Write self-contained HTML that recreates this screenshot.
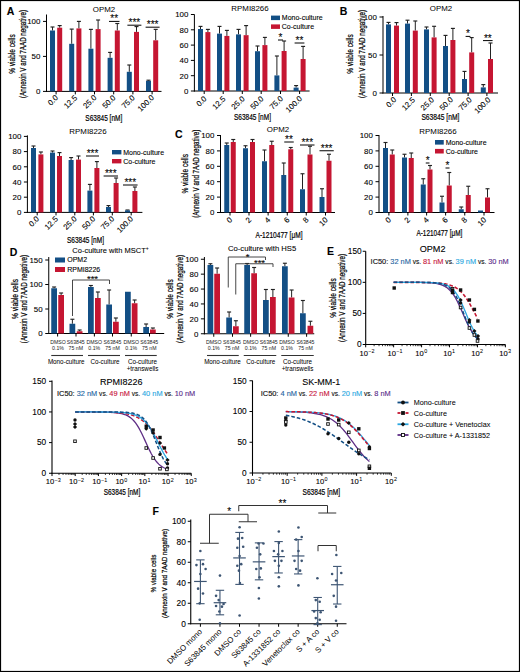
<!DOCTYPE html><html><head><meta charset="utf-8"><style>html,body{margin:0;padding:0;background:#fff;width:520px;height:672px;overflow:hidden}svg{display:block}text{font-family:"Liberation Sans",sans-serif}</style></head><body><svg width="520" height="672" viewBox="0 0 520 672"><rect width="520" height="672" fill="#fff"/><rect x="0.5" y="0.5" width="519" height="671" fill="none" stroke="#000" stroke-width="1.2"/>
<text x="10.5" y="14.5" font-size="10.5" text-anchor="middle" fill="#000" font-weight="bold" stroke="#000" stroke-width="0.1">A</text>
<text x="343.5" y="14.5" font-size="10.5" text-anchor="middle" fill="#000" font-weight="bold" stroke="#000" stroke-width="0.1">B</text>
<text x="178.8" y="137.6" font-size="10.5" text-anchor="middle" fill="#000" font-weight="bold" stroke="#000" stroke-width="0.1">C</text>
<text x="13.5" y="256.2" font-size="10.5" text-anchor="middle" fill="#000" font-weight="bold" stroke="#000" stroke-width="0.1">D</text>
<text x="330.6" y="254.6" font-size="10.5" text-anchor="middle" fill="#000" font-weight="bold" stroke="#000" stroke-width="0.1">E</text>
<text x="155.6" y="514.6" font-size="10.5" text-anchor="middle" fill="#000" font-weight="bold" stroke="#000" stroke-width="0.1">F</text>
<line x1="46.5" y1="14.5" x2="46.5" y2="91.9" stroke="#000" stroke-width="1" />
<line x1="46" y1="91.4" x2="161.5" y2="91.4" stroke="#000" stroke-width="1" />
<line x1="43" y1="91.4" x2="46.5" y2="91.4" stroke="#000" stroke-width="1" />
<text x="40.4" y="94.2" font-size="7.9" text-anchor="end" fill="#000" font-weight="normal" stroke="#000" stroke-width="0.1">0</text>
<line x1="43" y1="56.4" x2="46.5" y2="56.4" stroke="#000" stroke-width="1" />
<text x="40.4" y="59.2" font-size="7.9" text-anchor="end" fill="#000" font-weight="normal" stroke="#000" stroke-width="0.1">50</text>
<line x1="43" y1="21.4" x2="46.5" y2="21.4" stroke="#000" stroke-width="1" />
<text x="40.4" y="24.2" font-size="7.9" text-anchor="end" fill="#000" font-weight="normal" stroke="#000" stroke-width="0.1">100</text>
<line x1="52.5" y1="27" x2="52.5" y2="30.5" stroke="#222" stroke-width="1" />
<line x1="50.5" y1="27" x2="54.5" y2="27" stroke="#222" stroke-width="1.15" />
<line x1="59.7" y1="25.6" x2="59.7" y2="27.7" stroke="#222" stroke-width="1" />
<line x1="57.7" y1="25.6" x2="61.7" y2="25.6" stroke="#222" stroke-width="1.15" />
<rect x="50" y="30.5" width="5" height="60.9" fill="#134f85"/>
<rect x="57.2" y="27.7" width="5" height="63.7" fill="#c51632"/>
<line x1="56.1" y1="91.4" x2="56.1" y2="94.4" stroke="#000" stroke-width="1" />
<line x1="71.7" y1="29.1" x2="71.7" y2="43.8" stroke="#222" stroke-width="1" />
<line x1="69.7" y1="29.1" x2="73.7" y2="29.1" stroke="#222" stroke-width="1.15" />
<line x1="78.9" y1="21.4" x2="78.9" y2="28.4" stroke="#222" stroke-width="1" />
<line x1="76.9" y1="21.4" x2="80.9" y2="21.4" stroke="#222" stroke-width="1.15" />
<rect x="69.2" y="43.8" width="5" height="47.6" fill="#134f85"/>
<rect x="76.4" y="28.4" width="5" height="63" fill="#c51632"/>
<line x1="75.3" y1="91.4" x2="75.3" y2="94.4" stroke="#000" stroke-width="1" />
<line x1="90.9" y1="29.38" x2="90.9" y2="48.7" stroke="#222" stroke-width="1" />
<line x1="88.9" y1="29.38" x2="92.9" y2="29.38" stroke="#222" stroke-width="1.15" />
<line x1="98.1" y1="20" x2="98.1" y2="29.1" stroke="#222" stroke-width="1" />
<line x1="96.1" y1="20" x2="100.1" y2="20" stroke="#222" stroke-width="1.15" />
<rect x="88.4" y="48.7" width="5" height="42.7" fill="#134f85"/>
<rect x="95.6" y="29.1" width="5" height="62.3" fill="#c51632"/>
<line x1="94.5" y1="91.4" x2="94.5" y2="94.4" stroke="#000" stroke-width="1" />
<line x1="110.1" y1="52.41" x2="110.1" y2="57.8" stroke="#222" stroke-width="1" />
<line x1="108.1" y1="52.41" x2="112.1" y2="52.41" stroke="#222" stroke-width="1.15" />
<line x1="117.3" y1="23.5" x2="117.3" y2="30.5" stroke="#222" stroke-width="1" />
<line x1="115.3" y1="23.5" x2="119.3" y2="23.5" stroke="#222" stroke-width="1.15" />
<rect x="107.6" y="57.8" width="5" height="33.6" fill="#134f85"/>
<rect x="114.8" y="30.5" width="5" height="60.9" fill="#c51632"/>
<line x1="113.7" y1="91.4" x2="113.7" y2="94.4" stroke="#000" stroke-width="1" />
<line x1="129.3" y1="65.01" x2="129.3" y2="71.8" stroke="#222" stroke-width="1" />
<line x1="127.3" y1="65.01" x2="131.3" y2="65.01" stroke="#222" stroke-width="1.15" />
<line x1="136.5" y1="26.58" x2="136.5" y2="31.9" stroke="#222" stroke-width="1" />
<line x1="134.5" y1="26.58" x2="138.5" y2="26.58" stroke="#222" stroke-width="1.15" />
<rect x="126.8" y="71.8" width="5" height="19.6" fill="#134f85"/>
<rect x="134" y="31.9" width="5" height="59.5" fill="#c51632"/>
<line x1="132.9" y1="91.4" x2="132.9" y2="94.4" stroke="#000" stroke-width="1" />
<line x1="148.5" y1="80.2" x2="148.5" y2="80.9" stroke="#222" stroke-width="1" />
<line x1="146.5" y1="80.2" x2="150.5" y2="80.2" stroke="#222" stroke-width="1.15" />
<line x1="155.7" y1="29.38" x2="155.7" y2="40.3" stroke="#222" stroke-width="1" />
<line x1="153.7" y1="29.38" x2="157.7" y2="29.38" stroke="#222" stroke-width="1.15" />
<rect x="146" y="80.9" width="5" height="10.5" fill="#134f85"/>
<rect x="153.2" y="40.3" width="5" height="51.1" fill="#c51632"/>
<line x1="152.1" y1="91.4" x2="152.1" y2="94.4" stroke="#000" stroke-width="1" />
<text x="58.6" y="98.3" font-size="7.8" text-anchor="end" fill="#000" font-weight="normal" stroke="#000" stroke-width="0.1" transform="rotate(-45 58.6 98.3)">0.0</text>
<text x="77.8" y="98.3" font-size="7.8" text-anchor="end" fill="#000" font-weight="normal" stroke="#000" stroke-width="0.1" transform="rotate(-45 77.8 98.3)">12.5</text>
<text x="97" y="98.3" font-size="7.8" text-anchor="end" fill="#000" font-weight="normal" stroke="#000" stroke-width="0.1" transform="rotate(-45 97 98.3)">25.0</text>
<text x="116.2" y="98.3" font-size="7.8" text-anchor="end" fill="#000" font-weight="normal" stroke="#000" stroke-width="0.1" transform="rotate(-45 116.2 98.3)">50.0</text>
<text x="135.4" y="98.3" font-size="7.8" text-anchor="end" fill="#000" font-weight="normal" stroke="#000" stroke-width="0.1" transform="rotate(-45 135.4 98.3)">75.0</text>
<text x="154.6" y="98.3" font-size="7.8" text-anchor="end" fill="#000" font-weight="normal" stroke="#000" stroke-width="0.1" transform="rotate(-45 154.6 98.3)">100.0</text>
<text x="104" y="11.8" font-size="7.9" text-anchor="middle" fill="#000" font-weight="normal" stroke="#000" stroke-width="0.03">OPM2</text>
<text x="103.8" y="120.6" font-size="8.8" text-anchor="middle" fill="#000" font-weight="normal" stroke="#000" stroke-width="0.2" textLength="37" lengthAdjust="spacingAndGlyphs">S63845 [nM]</text>
<text x="14.87" y="54" font-size="8.2" text-anchor="middle" fill="#000" font-weight="normal" stroke="#000" stroke-width="0.22" textLength="39.5" lengthAdjust="spacingAndGlyphs" transform="rotate(-90 14.87 54)">% viable cells</text>
<text x="26.37" y="54" font-size="8.2" text-anchor="middle" fill="#000" font-weight="normal" stroke="#000" stroke-width="0.22" textLength="88" lengthAdjust="spacingAndGlyphs" transform="rotate(-90 26.37 54)">(Annexin V and 7AAD negative)</text>
<line x1="109" y1="21.4" x2="119.5" y2="21.4" stroke="#000" stroke-width="1" />
<text x="114.25" y="22.3" font-size="10" text-anchor="middle" fill="#000" font-weight="normal" stroke="#000" stroke-width="0.1">**</text>
<line x1="127.4" y1="25.2" x2="141.4" y2="25.2" stroke="#000" stroke-width="1" />
<text x="134.4" y="26.1" font-size="10" text-anchor="middle" fill="#000" font-weight="normal" stroke="#000" stroke-width="0.1">***</text>
<line x1="145.6" y1="27.2" x2="159.6" y2="27.2" stroke="#000" stroke-width="1" />
<text x="152.6" y="28.1" font-size="10" text-anchor="middle" fill="#000" font-weight="normal" stroke="#000" stroke-width="0.1">***</text>
<line x1="194.4" y1="14.4" x2="194.4" y2="91.5" stroke="#000" stroke-width="1" />
<line x1="193.9" y1="91" x2="309.6" y2="91" stroke="#000" stroke-width="1" />
<line x1="190.9" y1="91" x2="194.4" y2="91" stroke="#000" stroke-width="1" />
<text x="188.3" y="93.8" font-size="7.9" text-anchor="end" fill="#000" font-weight="normal" stroke="#000" stroke-width="0.1">0</text>
<line x1="190.9" y1="75.7" x2="194.4" y2="75.7" stroke="#000" stroke-width="1" />
<text x="188.3" y="78.5" font-size="7.9" text-anchor="end" fill="#000" font-weight="normal" stroke="#000" stroke-width="0.1">20</text>
<line x1="190.9" y1="60.4" x2="194.4" y2="60.4" stroke="#000" stroke-width="1" />
<text x="188.3" y="63.2" font-size="7.9" text-anchor="end" fill="#000" font-weight="normal" stroke="#000" stroke-width="0.1">40</text>
<line x1="190.9" y1="45.1" x2="194.4" y2="45.1" stroke="#000" stroke-width="1" />
<text x="188.3" y="47.9" font-size="7.9" text-anchor="end" fill="#000" font-weight="normal" stroke="#000" stroke-width="0.1">60</text>
<line x1="190.9" y1="29.8" x2="194.4" y2="29.8" stroke="#000" stroke-width="1" />
<text x="188.3" y="32.6" font-size="7.9" text-anchor="end" fill="#000" font-weight="normal" stroke="#000" stroke-width="0.1">80</text>
<line x1="190.9" y1="14.5" x2="194.4" y2="14.5" stroke="#000" stroke-width="1" />
<text x="188.3" y="17.3" font-size="7.9" text-anchor="end" fill="#000" font-weight="normal" stroke="#000" stroke-width="0.1">100</text>
<line x1="200.5" y1="26.4" x2="200.5" y2="29.03" stroke="#222" stroke-width="1" />
<line x1="198.5" y1="26.4" x2="202.5" y2="26.4" stroke="#222" stroke-width="1.15" />
<line x1="207.9" y1="29.4" x2="207.9" y2="32.09" stroke="#222" stroke-width="1" />
<line x1="205.9" y1="29.4" x2="209.9" y2="29.4" stroke="#222" stroke-width="1.15" />
<rect x="198" y="29.03" width="5" height="61.97" fill="#134f85"/>
<rect x="205.4" y="32.09" width="5" height="58.91" fill="#c51632"/>
<line x1="204.2" y1="91" x2="204.2" y2="94" stroke="#000" stroke-width="1" />
<line x1="219.5" y1="26.4" x2="219.5" y2="33.62" stroke="#222" stroke-width="1" />
<line x1="217.5" y1="26.4" x2="221.5" y2="26.4" stroke="#222" stroke-width="1.15" />
<line x1="226.9" y1="30.4" x2="226.9" y2="35.92" stroke="#222" stroke-width="1" />
<line x1="224.9" y1="30.4" x2="228.9" y2="30.4" stroke="#222" stroke-width="1.15" />
<rect x="217" y="33.62" width="5" height="57.38" fill="#134f85"/>
<rect x="224.4" y="35.92" width="5" height="55.08" fill="#c51632"/>
<line x1="223.2" y1="91" x2="223.2" y2="94" stroke="#000" stroke-width="1" />
<line x1="238.5" y1="29.4" x2="238.5" y2="34.39" stroke="#222" stroke-width="1" />
<line x1="236.5" y1="29.4" x2="240.5" y2="29.4" stroke="#222" stroke-width="1.15" />
<line x1="246.1" y1="25.6" x2="246.1" y2="35.16" stroke="#222" stroke-width="1" />
<line x1="244.1" y1="25.6" x2="248.1" y2="25.6" stroke="#222" stroke-width="1.15" />
<rect x="236" y="34.39" width="5" height="56.61" fill="#134f85"/>
<rect x="243.6" y="35.16" width="5" height="55.84" fill="#c51632"/>
<line x1="242.3" y1="91" x2="242.3" y2="94" stroke="#000" stroke-width="1" />
<line x1="257.5" y1="46" x2="257.5" y2="51.22" stroke="#222" stroke-width="1" />
<line x1="255.5" y1="46" x2="259.5" y2="46" stroke="#222" stroke-width="1.15" />
<line x1="264.9" y1="37.4" x2="264.9" y2="45.1" stroke="#222" stroke-width="1" />
<line x1="262.9" y1="37.4" x2="266.9" y2="37.4" stroke="#222" stroke-width="1.15" />
<rect x="255" y="51.22" width="5" height="39.78" fill="#134f85"/>
<rect x="262.4" y="45.1" width="5" height="45.9" fill="#c51632"/>
<line x1="261.2" y1="91" x2="261.2" y2="94" stroke="#000" stroke-width="1" />
<line x1="276.9" y1="56" x2="276.9" y2="75.4" stroke="#222" stroke-width="1" />
<line x1="274.9" y1="56" x2="278.9" y2="56" stroke="#222" stroke-width="1.15" />
<line x1="284.1" y1="41" x2="284.1" y2="51" stroke="#222" stroke-width="1" />
<line x1="282.1" y1="41" x2="286.1" y2="41" stroke="#222" stroke-width="1.15" />
<rect x="274.4" y="75.4" width="5" height="15.6" fill="#134f85"/>
<rect x="281.6" y="51" width="5" height="40" fill="#c51632"/>
<line x1="280.5" y1="91" x2="280.5" y2="94" stroke="#000" stroke-width="1" />
<line x1="296.1" y1="85.6" x2="296.1" y2="87.6" stroke="#222" stroke-width="1" />
<line x1="294.1" y1="85.6" x2="298.1" y2="85.6" stroke="#222" stroke-width="1.15" />
<line x1="303.1" y1="46.4" x2="303.1" y2="59" stroke="#222" stroke-width="1" />
<line x1="301.1" y1="46.4" x2="305.1" y2="46.4" stroke="#222" stroke-width="1.15" />
<rect x="293.6" y="87.6" width="5" height="3.4" fill="#134f85"/>
<rect x="300.6" y="59" width="5" height="32" fill="#c51632"/>
<line x1="299.6" y1="91" x2="299.6" y2="94" stroke="#000" stroke-width="1" />
<text x="207.2" y="99.3" font-size="7.8" text-anchor="end" fill="#000" font-weight="normal" stroke="#000" stroke-width="0.1" transform="rotate(-45 207.2 99.3)">0.0</text>
<text x="226.2" y="99.3" font-size="7.8" text-anchor="end" fill="#000" font-weight="normal" stroke="#000" stroke-width="0.1" transform="rotate(-45 226.2 99.3)">12.5</text>
<text x="245.3" y="99.3" font-size="7.8" text-anchor="end" fill="#000" font-weight="normal" stroke="#000" stroke-width="0.1" transform="rotate(-45 245.3 99.3)">25.0</text>
<text x="264.2" y="99.3" font-size="7.8" text-anchor="end" fill="#000" font-weight="normal" stroke="#000" stroke-width="0.1" transform="rotate(-45 264.2 99.3)">50.0</text>
<text x="283.5" y="99.3" font-size="7.8" text-anchor="end" fill="#000" font-weight="normal" stroke="#000" stroke-width="0.1" transform="rotate(-45 283.5 99.3)">75.0</text>
<text x="302.6" y="99.3" font-size="7.8" text-anchor="end" fill="#000" font-weight="normal" stroke="#000" stroke-width="0.1" transform="rotate(-45 302.6 99.3)">100.0</text>
<text x="250" y="11.4" font-size="7.9" text-anchor="middle" fill="#000" font-weight="normal" stroke="#000" stroke-width="0.03">RPMI8266</text>
<text x="252.5" y="120" font-size="8.8" text-anchor="middle" fill="#000" font-weight="normal" stroke="#000" stroke-width="0.2" textLength="37" lengthAdjust="spacingAndGlyphs">S63845 [nM]</text>
<rect x="271" y="15.6" width="9" height="4.5" fill="#134f85"/>
<rect x="271" y="24.4" width="9" height="4.5" fill="#c51632"/>
<text x="281.8" y="20.25" font-size="7" text-anchor="start" fill="#000" font-weight="normal" stroke="#000" stroke-width="0.1">Mono-culture</text>
<text x="281.8" y="29.05" font-size="7" text-anchor="start" fill="#000" font-weight="normal" stroke="#000" stroke-width="0.1">Co-culture</text>
<line x1="278" y1="40" x2="283" y2="40" stroke="#000" stroke-width="1" />
<text x="280.5" y="40.9" font-size="10" text-anchor="middle" fill="#000" font-weight="normal" stroke="#000" stroke-width="0.1">*</text>
<line x1="294.6" y1="43" x2="304.4" y2="43" stroke="#000" stroke-width="1" />
<text x="299.5" y="43.9" font-size="10" text-anchor="middle" fill="#000" font-weight="normal" stroke="#000" stroke-width="0.1">**</text>
<line x1="383" y1="16" x2="383" y2="93.5" stroke="#000" stroke-width="1" />
<line x1="382.5" y1="93" x2="498" y2="93" stroke="#000" stroke-width="1" />
<line x1="379.5" y1="93" x2="383" y2="93" stroke="#000" stroke-width="1" />
<text x="376.9" y="95.8" font-size="7.9" text-anchor="end" fill="#000" font-weight="normal" stroke="#000" stroke-width="0.1">0</text>
<line x1="379.5" y1="55" x2="383" y2="55" stroke="#000" stroke-width="1" />
<text x="376.9" y="57.8" font-size="7.9" text-anchor="end" fill="#000" font-weight="normal" stroke="#000" stroke-width="0.1">50</text>
<line x1="379.5" y1="17" x2="383" y2="17" stroke="#000" stroke-width="1" />
<text x="376.9" y="19.8" font-size="7.9" text-anchor="end" fill="#000" font-weight="normal" stroke="#000" stroke-width="0.1">100</text>
<line x1="388.5" y1="22.4" x2="388.5" y2="24.4" stroke="#222" stroke-width="1" />
<line x1="386.5" y1="22.4" x2="390.5" y2="22.4" stroke="#222" stroke-width="1.15" />
<line x1="396.5" y1="22.6" x2="396.5" y2="25.6" stroke="#222" stroke-width="1" />
<line x1="394.5" y1="22.6" x2="398.5" y2="22.6" stroke="#222" stroke-width="1.15" />
<rect x="386" y="24.4" width="5" height="68.6" fill="#134f85"/>
<rect x="394" y="25.6" width="5" height="67.4" fill="#c51632"/>
<line x1="392.5" y1="93" x2="392.5" y2="96" stroke="#000" stroke-width="1" />
<line x1="407.5" y1="20.2" x2="407.5" y2="23.6" stroke="#222" stroke-width="1" />
<line x1="405.5" y1="20.2" x2="409.5" y2="20.2" stroke="#222" stroke-width="1.15" />
<line x1="415.3" y1="21" x2="415.3" y2="30.6" stroke="#222" stroke-width="1" />
<line x1="413.3" y1="21" x2="417.3" y2="21" stroke="#222" stroke-width="1.15" />
<rect x="405" y="23.6" width="5" height="69.4" fill="#134f85"/>
<rect x="412.8" y="30.6" width="5" height="62.4" fill="#c51632"/>
<line x1="411.4" y1="93" x2="411.4" y2="96" stroke="#000" stroke-width="1" />
<line x1="426.5" y1="27" x2="426.5" y2="29.4" stroke="#222" stroke-width="1" />
<line x1="424.5" y1="27" x2="428.5" y2="27" stroke="#222" stroke-width="1.15" />
<line x1="434.1" y1="26.3" x2="434.1" y2="37.4" stroke="#222" stroke-width="1" />
<line x1="432.1" y1="26.3" x2="436.1" y2="26.3" stroke="#222" stroke-width="1.15" />
<rect x="424" y="29.4" width="5" height="63.6" fill="#134f85"/>
<rect x="431.6" y="37.4" width="5" height="55.6" fill="#c51632"/>
<line x1="430.3" y1="93" x2="430.3" y2="96" stroke="#000" stroke-width="1" />
<line x1="445.5" y1="35.4" x2="445.5" y2="46" stroke="#222" stroke-width="1" />
<line x1="443.5" y1="35.4" x2="447.5" y2="35.4" stroke="#222" stroke-width="1.15" />
<line x1="452.9" y1="28.4" x2="452.9" y2="40" stroke="#222" stroke-width="1" />
<line x1="450.9" y1="28.4" x2="454.9" y2="28.4" stroke="#222" stroke-width="1.15" />
<rect x="443" y="46" width="5" height="47" fill="#134f85"/>
<rect x="450.4" y="40" width="5" height="53" fill="#c51632"/>
<line x1="449.2" y1="93" x2="449.2" y2="96" stroke="#000" stroke-width="1" />
<line x1="464.5" y1="71.4" x2="464.5" y2="79" stroke="#222" stroke-width="1" />
<line x1="462.5" y1="71.4" x2="466.5" y2="71.4" stroke="#222" stroke-width="1.15" />
<line x1="471.7" y1="37.6" x2="471.7" y2="52.4" stroke="#222" stroke-width="1" />
<line x1="469.7" y1="37.6" x2="473.7" y2="37.6" stroke="#222" stroke-width="1.15" />
<rect x="462" y="79" width="5" height="14" fill="#134f85"/>
<rect x="469.2" y="52.4" width="5" height="40.6" fill="#c51632"/>
<line x1="468.1" y1="93" x2="468.1" y2="96" stroke="#000" stroke-width="1" />
<line x1="483.3" y1="84.6" x2="483.3" y2="87.4" stroke="#222" stroke-width="1" />
<line x1="481.3" y1="84.6" x2="485.3" y2="84.6" stroke="#222" stroke-width="1.15" />
<line x1="490.5" y1="43" x2="490.5" y2="59" stroke="#222" stroke-width="1" />
<line x1="488.5" y1="43" x2="492.5" y2="43" stroke="#222" stroke-width="1.15" />
<rect x="480.8" y="87.4" width="5" height="5.6" fill="#134f85"/>
<rect x="488" y="59" width="5" height="34" fill="#c51632"/>
<line x1="486.9" y1="93" x2="486.9" y2="96" stroke="#000" stroke-width="1" />
<text x="396.8" y="100.3" font-size="7.8" text-anchor="end" fill="#000" font-weight="normal" stroke="#000" stroke-width="0.1" transform="rotate(-45 396.8 100.3)">0.0</text>
<text x="415.7" y="100.3" font-size="7.8" text-anchor="end" fill="#000" font-weight="normal" stroke="#000" stroke-width="0.1" transform="rotate(-45 415.7 100.3)">12.5</text>
<text x="434.6" y="100.3" font-size="7.8" text-anchor="end" fill="#000" font-weight="normal" stroke="#000" stroke-width="0.1" transform="rotate(-45 434.6 100.3)">25.0</text>
<text x="453.5" y="100.3" font-size="7.8" text-anchor="end" fill="#000" font-weight="normal" stroke="#000" stroke-width="0.1" transform="rotate(-45 453.5 100.3)">50.0</text>
<text x="472.4" y="100.3" font-size="7.8" text-anchor="end" fill="#000" font-weight="normal" stroke="#000" stroke-width="0.1" transform="rotate(-45 472.4 100.3)">75.0</text>
<text x="491.2" y="100.3" font-size="7.8" text-anchor="end" fill="#000" font-weight="normal" stroke="#000" stroke-width="0.1" transform="rotate(-45 491.2 100.3)">100.0</text>
<text x="441" y="11.4" font-size="7.9" text-anchor="middle" fill="#000" font-weight="normal" stroke="#000" stroke-width="0.03">OPM2</text>
<text x="440.4" y="119.8" font-size="8.8" text-anchor="middle" fill="#000" font-weight="normal" stroke="#000" stroke-width="0.2" textLength="38" lengthAdjust="spacingAndGlyphs">S63845 [nM]</text>
<text x="353.47" y="54" font-size="8.2" text-anchor="middle" fill="#000" font-weight="normal" stroke="#000" stroke-width="0.22" textLength="39.5" lengthAdjust="spacingAndGlyphs" transform="rotate(-90 353.47 54)">% viable cells</text>
<text x="364.87" y="54" font-size="8.2" text-anchor="middle" fill="#000" font-weight="normal" stroke="#000" stroke-width="0.22" textLength="88" lengthAdjust="spacingAndGlyphs" transform="rotate(-90 364.87 54)">(Annexin V and 7AAD negative)</text>
<line x1="465.6" y1="36.4" x2="470.4" y2="36.4" stroke="#000" stroke-width="1" />
<text x="468" y="37.3" font-size="10" text-anchor="middle" fill="#000" font-weight="normal" stroke="#000" stroke-width="0.1">*</text>
<line x1="483" y1="40.6" x2="492.6" y2="40.6" stroke="#000" stroke-width="1" />
<text x="487.8" y="41.5" font-size="10" text-anchor="middle" fill="#000" font-weight="normal" stroke="#000" stroke-width="0.1">**</text>
<line x1="27.4" y1="135.4" x2="27.4" y2="212.9" stroke="#000" stroke-width="1" />
<line x1="26.9" y1="212.4" x2="142.4" y2="212.4" stroke="#000" stroke-width="1" />
<line x1="23.9" y1="212.4" x2="27.4" y2="212.4" stroke="#000" stroke-width="1" />
<text x="21.3" y="215.2" font-size="7.9" text-anchor="end" fill="#000" font-weight="normal" stroke="#000" stroke-width="0.1">0</text>
<line x1="23.9" y1="197.2" x2="27.4" y2="197.2" stroke="#000" stroke-width="1" />
<text x="21.3" y="200" font-size="7.9" text-anchor="end" fill="#000" font-weight="normal" stroke="#000" stroke-width="0.1">20</text>
<line x1="23.9" y1="182" x2="27.4" y2="182" stroke="#000" stroke-width="1" />
<text x="21.3" y="184.8" font-size="7.9" text-anchor="end" fill="#000" font-weight="normal" stroke="#000" stroke-width="0.1">40</text>
<line x1="23.9" y1="166.8" x2="27.4" y2="166.8" stroke="#000" stroke-width="1" />
<text x="21.3" y="169.6" font-size="7.9" text-anchor="end" fill="#000" font-weight="normal" stroke="#000" stroke-width="0.1">60</text>
<line x1="23.9" y1="151.6" x2="27.4" y2="151.6" stroke="#000" stroke-width="1" />
<text x="21.3" y="154.4" font-size="7.9" text-anchor="end" fill="#000" font-weight="normal" stroke="#000" stroke-width="0.1">80</text>
<line x1="23.9" y1="136.4" x2="27.4" y2="136.4" stroke="#000" stroke-width="1" />
<text x="21.3" y="139.2" font-size="7.9" text-anchor="end" fill="#000" font-weight="normal" stroke="#000" stroke-width="0.1">100</text>
<line x1="33.5" y1="146" x2="33.5" y2="148" stroke="#222" stroke-width="1" />
<line x1="31.5" y1="146" x2="35.5" y2="146" stroke="#222" stroke-width="1.15" />
<line x1="40.9" y1="152" x2="40.9" y2="154.4" stroke="#222" stroke-width="1" />
<line x1="38.9" y1="152" x2="42.9" y2="152" stroke="#222" stroke-width="1.15" />
<rect x="31" y="148" width="5" height="64.4" fill="#134f85"/>
<rect x="38.4" y="154.4" width="5" height="58" fill="#c51632"/>
<line x1="37.2" y1="212.4" x2="37.2" y2="215.4" stroke="#000" stroke-width="1" />
<line x1="52.5" y1="151" x2="52.5" y2="152.6" stroke="#222" stroke-width="1" />
<line x1="50.5" y1="151" x2="54.5" y2="151" stroke="#222" stroke-width="1.15" />
<line x1="59.5" y1="152.6" x2="59.5" y2="156" stroke="#222" stroke-width="1" />
<line x1="57.5" y1="152.6" x2="61.5" y2="152.6" stroke="#222" stroke-width="1.15" />
<rect x="50" y="152.6" width="5" height="59.8" fill="#134f85"/>
<rect x="57" y="156" width="5" height="56.4" fill="#c51632"/>
<line x1="56" y1="212.4" x2="56" y2="215.4" stroke="#000" stroke-width="1" />
<line x1="71.1" y1="157.6" x2="71.1" y2="160" stroke="#222" stroke-width="1" />
<line x1="69.1" y1="157.6" x2="73.1" y2="157.6" stroke="#222" stroke-width="1.15" />
<line x1="78.5" y1="156" x2="78.5" y2="159.6" stroke="#222" stroke-width="1" />
<line x1="76.5" y1="156" x2="80.5" y2="156" stroke="#222" stroke-width="1.15" />
<rect x="68.6" y="160" width="5" height="52.4" fill="#134f85"/>
<rect x="76" y="159.6" width="5" height="52.8" fill="#c51632"/>
<line x1="74.8" y1="212.4" x2="74.8" y2="215.4" stroke="#000" stroke-width="1" />
<line x1="89.9" y1="184.4" x2="89.9" y2="190.6" stroke="#222" stroke-width="1" />
<line x1="87.9" y1="184.4" x2="91.9" y2="184.4" stroke="#222" stroke-width="1.15" />
<line x1="96.9" y1="161.6" x2="96.9" y2="168" stroke="#222" stroke-width="1" />
<line x1="94.9" y1="161.6" x2="98.9" y2="161.6" stroke="#222" stroke-width="1.15" />
<rect x="87.4" y="190.6" width="5" height="21.8" fill="#134f85"/>
<rect x="94.4" y="168" width="5" height="44.4" fill="#c51632"/>
<line x1="93.4" y1="212.4" x2="93.4" y2="215.4" stroke="#000" stroke-width="1" />
<line x1="108.5" y1="205.6" x2="108.5" y2="207" stroke="#222" stroke-width="1" />
<line x1="106.5" y1="205.6" x2="110.5" y2="205.6" stroke="#222" stroke-width="1.15" />
<line x1="116.1" y1="178" x2="116.1" y2="183" stroke="#222" stroke-width="1" />
<line x1="114.1" y1="178" x2="118.1" y2="178" stroke="#222" stroke-width="1.15" />
<rect x="106" y="207" width="5" height="5.4" fill="#134f85"/>
<rect x="113.6" y="183" width="5" height="29.4" fill="#c51632"/>
<line x1="112.3" y1="212.4" x2="112.3" y2="215.4" stroke="#000" stroke-width="1" />
<line x1="127.5" y1="210" x2="127.5" y2="210.4" stroke="#222" stroke-width="1" />
<line x1="125.5" y1="210" x2="129.5" y2="210" stroke="#222" stroke-width="1.15" />
<line x1="134.9" y1="187" x2="134.9" y2="191" stroke="#222" stroke-width="1" />
<line x1="132.9" y1="187" x2="136.9" y2="187" stroke="#222" stroke-width="1.15" />
<rect x="125" y="210.4" width="5" height="2" fill="#134f85"/>
<rect x="132.4" y="191" width="5" height="21.4" fill="#c51632"/>
<line x1="131.2" y1="212.4" x2="131.2" y2="215.4" stroke="#000" stroke-width="1" />
<text x="39.7" y="219.5" font-size="7.8" text-anchor="end" fill="#000" font-weight="normal" stroke="#000" stroke-width="0.1" transform="rotate(-45 39.7 219.5)">0.0</text>
<text x="58.5" y="219.5" font-size="7.8" text-anchor="end" fill="#000" font-weight="normal" stroke="#000" stroke-width="0.1" transform="rotate(-45 58.5 219.5)">12.5</text>
<text x="77.3" y="219.5" font-size="7.8" text-anchor="end" fill="#000" font-weight="normal" stroke="#000" stroke-width="0.1" transform="rotate(-45 77.3 219.5)">25.0</text>
<text x="95.9" y="219.5" font-size="7.8" text-anchor="end" fill="#000" font-weight="normal" stroke="#000" stroke-width="0.1" transform="rotate(-45 95.9 219.5)">50.0</text>
<text x="114.8" y="219.5" font-size="7.8" text-anchor="end" fill="#000" font-weight="normal" stroke="#000" stroke-width="0.1" transform="rotate(-45 114.8 219.5)">75.0</text>
<text x="133.7" y="219.5" font-size="7.8" text-anchor="end" fill="#000" font-weight="normal" stroke="#000" stroke-width="0.1" transform="rotate(-45 133.7 219.5)">100.0</text>
<text x="88" y="134" font-size="7.9" text-anchor="middle" fill="#000" font-weight="normal" stroke="#000" stroke-width="0.03">RPMI8226</text>
<text x="85.5" y="243.4" font-size="8.8" text-anchor="middle" fill="#000" font-weight="normal" stroke="#000" stroke-width="0.2" textLength="37" lengthAdjust="spacingAndGlyphs">S63845 [nM]</text>
<rect x="112" y="150" width="9.4" height="4.4" fill="#134f85"/>
<rect x="112" y="159" width="9.4" height="4.4" fill="#c51632"/>
<text x="123.2" y="154.6" font-size="7" text-anchor="start" fill="#000" font-weight="normal" stroke="#000" stroke-width="0.1">Mono-culture</text>
<text x="123.2" y="163.6" font-size="7" text-anchor="start" fill="#000" font-weight="normal" stroke="#000" stroke-width="0.1">Co-culture</text>
<line x1="86" y1="156" x2="99" y2="156" stroke="#000" stroke-width="1" />
<text x="92.5" y="156.9" font-size="10" text-anchor="middle" fill="#000" font-weight="normal" stroke="#000" stroke-width="0.1">***</text>
<line x1="103.6" y1="176" x2="118" y2="176" stroke="#000" stroke-width="1" />
<text x="110.8" y="176.9" font-size="10" text-anchor="middle" fill="#000" font-weight="normal" stroke="#000" stroke-width="0.1">***</text>
<line x1="123" y1="185" x2="137.6" y2="185" stroke="#000" stroke-width="1" />
<text x="130.3" y="185.9" font-size="10" text-anchor="middle" fill="#000" font-weight="normal" stroke="#000" stroke-width="0.1">***</text>
<line x1="220.5" y1="135" x2="220.5" y2="213" stroke="#000" stroke-width="1" />
<line x1="220" y1="212.5" x2="335" y2="212.5" stroke="#000" stroke-width="1" />
<line x1="217" y1="212.5" x2="220.5" y2="212.5" stroke="#000" stroke-width="1" />
<text x="214.4" y="215.3" font-size="7.9" text-anchor="end" fill="#000" font-weight="normal" stroke="#000" stroke-width="0.1">0</text>
<line x1="217" y1="197.1" x2="220.5" y2="197.1" stroke="#000" stroke-width="1" />
<text x="214.4" y="199.9" font-size="7.9" text-anchor="end" fill="#000" font-weight="normal" stroke="#000" stroke-width="0.1">20</text>
<line x1="217" y1="181.7" x2="220.5" y2="181.7" stroke="#000" stroke-width="1" />
<text x="214.4" y="184.5" font-size="7.9" text-anchor="end" fill="#000" font-weight="normal" stroke="#000" stroke-width="0.1">40</text>
<line x1="217" y1="166.3" x2="220.5" y2="166.3" stroke="#000" stroke-width="1" />
<text x="214.4" y="169.1" font-size="7.9" text-anchor="end" fill="#000" font-weight="normal" stroke="#000" stroke-width="0.1">60</text>
<line x1="217" y1="150.9" x2="220.5" y2="150.9" stroke="#000" stroke-width="1" />
<text x="214.4" y="153.7" font-size="7.9" text-anchor="end" fill="#000" font-weight="normal" stroke="#000" stroke-width="0.1">80</text>
<line x1="217" y1="135.5" x2="220.5" y2="135.5" stroke="#000" stroke-width="1" />
<text x="214.4" y="138.3" font-size="7.9" text-anchor="end" fill="#000" font-weight="normal" stroke="#000" stroke-width="0.1">100</text>
<line x1="226.75" y1="143" x2="226.75" y2="145" stroke="#222" stroke-width="1" />
<line x1="224.75" y1="143" x2="228.75" y2="143" stroke="#222" stroke-width="1.15" />
<line x1="233.25" y1="139.5" x2="233.25" y2="142" stroke="#222" stroke-width="1" />
<line x1="231.25" y1="139.5" x2="235.25" y2="139.5" stroke="#222" stroke-width="1.15" />
<rect x="224.25" y="145" width="5" height="67.5" fill="#134f85"/>
<rect x="230.75" y="142" width="5" height="70.5" fill="#c51632"/>
<line x1="230" y1="212.5" x2="230" y2="215.5" stroke="#000" stroke-width="1" />
<line x1="245.5" y1="145.75" x2="245.5" y2="148.25" stroke="#222" stroke-width="1" />
<line x1="243.5" y1="145.75" x2="247.5" y2="145.75" stroke="#222" stroke-width="1.15" />
<line x1="252.5" y1="139.5" x2="252.5" y2="142" stroke="#222" stroke-width="1" />
<line x1="250.5" y1="139.5" x2="254.5" y2="139.5" stroke="#222" stroke-width="1.15" />
<rect x="243" y="148.25" width="5" height="64.25" fill="#134f85"/>
<rect x="250" y="142" width="5" height="70.5" fill="#c51632"/>
<line x1="249" y1="212.5" x2="249" y2="215.5" stroke="#000" stroke-width="1" />
<line x1="264.5" y1="150" x2="264.5" y2="161.25" stroke="#222" stroke-width="1" />
<line x1="262.5" y1="150" x2="266.5" y2="150" stroke="#222" stroke-width="1.15" />
<line x1="271.75" y1="141.25" x2="271.75" y2="145" stroke="#222" stroke-width="1" />
<line x1="269.75" y1="141.25" x2="273.75" y2="141.25" stroke="#222" stroke-width="1.15" />
<rect x="262" y="161.25" width="5" height="51.25" fill="#134f85"/>
<rect x="269.25" y="145" width="5" height="67.5" fill="#c51632"/>
<line x1="268.12" y1="212.5" x2="268.12" y2="215.5" stroke="#000" stroke-width="1" />
<line x1="283.75" y1="163" x2="283.75" y2="175" stroke="#222" stroke-width="1" />
<line x1="281.75" y1="163" x2="285.75" y2="163" stroke="#222" stroke-width="1.15" />
<line x1="290.75" y1="147.5" x2="290.75" y2="149.25" stroke="#222" stroke-width="1" />
<line x1="288.75" y1="147.5" x2="292.75" y2="147.5" stroke="#222" stroke-width="1.15" />
<rect x="281.25" y="175" width="5" height="37.5" fill="#134f85"/>
<rect x="288.25" y="149.25" width="5" height="63.25" fill="#c51632"/>
<line x1="287.25" y1="212.5" x2="287.25" y2="215.5" stroke="#000" stroke-width="1" />
<line x1="302.5" y1="173.75" x2="302.5" y2="189.25" stroke="#222" stroke-width="1" />
<line x1="300.5" y1="173.75" x2="304.5" y2="173.75" stroke="#222" stroke-width="1.15" />
<line x1="310" y1="146.25" x2="310" y2="154.5" stroke="#222" stroke-width="1" />
<line x1="308" y1="146.25" x2="312" y2="146.25" stroke="#222" stroke-width="1.15" />
<rect x="300" y="189.25" width="5" height="23.25" fill="#134f85"/>
<rect x="307.5" y="154.5" width="5" height="58" fill="#c51632"/>
<line x1="306.25" y1="212.5" x2="306.25" y2="215.5" stroke="#000" stroke-width="1" />
<line x1="322" y1="188.75" x2="322" y2="197" stroke="#222" stroke-width="1" />
<line x1="320" y1="188.75" x2="324" y2="188.75" stroke="#222" stroke-width="1.15" />
<line x1="329" y1="154.25" x2="329" y2="160.75" stroke="#222" stroke-width="1" />
<line x1="327" y1="154.25" x2="331" y2="154.25" stroke="#222" stroke-width="1.15" />
<rect x="319.5" y="197" width="5" height="15.5" fill="#134f85"/>
<rect x="326.5" y="160.75" width="5" height="51.75" fill="#c51632"/>
<line x1="325.5" y1="212.5" x2="325.5" y2="215.5" stroke="#000" stroke-width="1" />
<text x="232.8" y="220.5" font-size="7.8" text-anchor="end" fill="#000" font-weight="normal" stroke="#000" stroke-width="0.1" transform="rotate(-45 232.8 220.5)">0</text>
<text x="251.8" y="220.5" font-size="7.8" text-anchor="end" fill="#000" font-weight="normal" stroke="#000" stroke-width="0.1" transform="rotate(-45 251.8 220.5)">2</text>
<text x="270.93" y="220.5" font-size="7.8" text-anchor="end" fill="#000" font-weight="normal" stroke="#000" stroke-width="0.1" transform="rotate(-45 270.93 220.5)">4</text>
<text x="290.05" y="220.5" font-size="7.8" text-anchor="end" fill="#000" font-weight="normal" stroke="#000" stroke-width="0.1" transform="rotate(-45 290.05 220.5)">6</text>
<text x="309.05" y="220.5" font-size="7.8" text-anchor="end" fill="#000" font-weight="normal" stroke="#000" stroke-width="0.1" transform="rotate(-45 309.05 220.5)">8</text>
<text x="328.3" y="220.5" font-size="7.8" text-anchor="end" fill="#000" font-weight="normal" stroke="#000" stroke-width="0.1" transform="rotate(-45 328.3 220.5)">10</text>
<text x="278" y="132.4" font-size="7.9" text-anchor="middle" fill="#000" font-weight="normal" stroke="#000" stroke-width="0.03">OPM2</text>
<text x="279" y="237.8" font-size="8.8" text-anchor="middle" fill="#000" font-weight="normal" stroke="#000" stroke-width="0.2" textLength="47" lengthAdjust="spacingAndGlyphs">A-1210477 [μM]</text>
<text x="188.27" y="173.75" font-size="8.2" text-anchor="middle" fill="#000" font-weight="normal" stroke="#000" stroke-width="0.22" textLength="39.5" lengthAdjust="spacingAndGlyphs" transform="rotate(-90 188.27 173.75)">% viable cells</text>
<text x="199.12" y="173.75" font-size="8.2" text-anchor="middle" fill="#000" font-weight="normal" stroke="#000" stroke-width="0.22" textLength="88" lengthAdjust="spacingAndGlyphs" transform="rotate(-90 199.12 173.75)">(Annexin V and 7AAD negative)</text>
<line x1="284.25" y1="142" x2="293.75" y2="142" stroke="#000" stroke-width="1" />
<text x="289" y="142.9" font-size="10" text-anchor="middle" fill="#000" font-weight="normal" stroke="#000" stroke-width="0.1">**</text>
<line x1="300" y1="145" x2="314.5" y2="145" stroke="#000" stroke-width="1" />
<text x="307.25" y="145.9" font-size="10" text-anchor="middle" fill="#000" font-weight="normal" stroke="#000" stroke-width="0.1">***</text>
<line x1="319.5" y1="150.75" x2="333.75" y2="150.75" stroke="#000" stroke-width="1" />
<text x="326.62" y="151.65" font-size="10" text-anchor="middle" fill="#000" font-weight="normal" stroke="#000" stroke-width="0.1">***</text>
<line x1="379" y1="135" x2="379" y2="213" stroke="#000" stroke-width="1" />
<line x1="378.5" y1="212.5" x2="494.5" y2="212.5" stroke="#000" stroke-width="1" />
<line x1="375.5" y1="212.5" x2="379" y2="212.5" stroke="#000" stroke-width="1" />
<text x="372.9" y="215.3" font-size="7.9" text-anchor="end" fill="#000" font-weight="normal" stroke="#000" stroke-width="0.1">0</text>
<line x1="375.5" y1="197.1" x2="379" y2="197.1" stroke="#000" stroke-width="1" />
<text x="372.9" y="199.9" font-size="7.9" text-anchor="end" fill="#000" font-weight="normal" stroke="#000" stroke-width="0.1">20</text>
<line x1="375.5" y1="181.7" x2="379" y2="181.7" stroke="#000" stroke-width="1" />
<text x="372.9" y="184.5" font-size="7.9" text-anchor="end" fill="#000" font-weight="normal" stroke="#000" stroke-width="0.1">40</text>
<line x1="375.5" y1="166.3" x2="379" y2="166.3" stroke="#000" stroke-width="1" />
<text x="372.9" y="169.1" font-size="7.9" text-anchor="end" fill="#000" font-weight="normal" stroke="#000" stroke-width="0.1">60</text>
<line x1="375.5" y1="150.9" x2="379" y2="150.9" stroke="#000" stroke-width="1" />
<text x="372.9" y="153.7" font-size="7.9" text-anchor="end" fill="#000" font-weight="normal" stroke="#000" stroke-width="0.1">80</text>
<line x1="375.5" y1="135.5" x2="379" y2="135.5" stroke="#000" stroke-width="1" />
<text x="372.9" y="138.3" font-size="7.9" text-anchor="end" fill="#000" font-weight="normal" stroke="#000" stroke-width="0.1">100</text>
<line x1="385.5" y1="142.5" x2="385.5" y2="148" stroke="#222" stroke-width="1" />
<line x1="383.5" y1="142.5" x2="387.5" y2="142.5" stroke="#222" stroke-width="1.15" />
<line x1="392.25" y1="150" x2="392.25" y2="154.5" stroke="#222" stroke-width="1" />
<line x1="390.25" y1="150" x2="394.25" y2="150" stroke="#222" stroke-width="1.15" />
<rect x="383" y="148" width="5" height="64.5" fill="#134f85"/>
<rect x="389.75" y="154.5" width="5" height="58" fill="#c51632"/>
<line x1="388.88" y1="212.5" x2="388.88" y2="215.5" stroke="#000" stroke-width="1" />
<line x1="404.5" y1="154.25" x2="404.5" y2="157.5" stroke="#222" stroke-width="1" />
<line x1="402.5" y1="154.25" x2="406.5" y2="154.25" stroke="#222" stroke-width="1.15" />
<line x1="411.25" y1="153" x2="411.25" y2="158" stroke="#222" stroke-width="1" />
<line x1="409.25" y1="153" x2="413.25" y2="153" stroke="#222" stroke-width="1.15" />
<rect x="402" y="157.5" width="5" height="55" fill="#134f85"/>
<rect x="408.75" y="158" width="5" height="54.5" fill="#c51632"/>
<line x1="407.88" y1="212.5" x2="407.88" y2="215.5" stroke="#000" stroke-width="1" />
<line x1="423.25" y1="178.75" x2="423.25" y2="184.5" stroke="#222" stroke-width="1" />
<line x1="421.25" y1="178.75" x2="425.25" y2="178.75" stroke="#222" stroke-width="1.15" />
<line x1="430" y1="165.5" x2="430" y2="169.5" stroke="#222" stroke-width="1" />
<line x1="428" y1="165.5" x2="432" y2="165.5" stroke="#222" stroke-width="1.15" />
<rect x="420.75" y="184.5" width="5" height="28" fill="#134f85"/>
<rect x="427.5" y="169.5" width="5" height="43" fill="#c51632"/>
<line x1="426.62" y1="212.5" x2="426.62" y2="215.5" stroke="#000" stroke-width="1" />
<line x1="442" y1="196.25" x2="442" y2="202.5" stroke="#222" stroke-width="1" />
<line x1="440" y1="196.25" x2="444" y2="196.25" stroke="#222" stroke-width="1.15" />
<line x1="449.25" y1="172.5" x2="449.25" y2="185.5" stroke="#222" stroke-width="1" />
<line x1="447.25" y1="172.5" x2="451.25" y2="172.5" stroke="#222" stroke-width="1.15" />
<rect x="439.5" y="202.5" width="5" height="10" fill="#134f85"/>
<rect x="446.75" y="185.5" width="5" height="27" fill="#c51632"/>
<line x1="445.62" y1="212.5" x2="445.62" y2="215.5" stroke="#000" stroke-width="1" />
<line x1="461.25" y1="207" x2="461.25" y2="209.25" stroke="#222" stroke-width="1" />
<line x1="459.25" y1="207" x2="463.25" y2="207" stroke="#222" stroke-width="1.15" />
<line x1="468.25" y1="186.25" x2="468.25" y2="195" stroke="#222" stroke-width="1" />
<line x1="466.25" y1="186.25" x2="470.25" y2="186.25" stroke="#222" stroke-width="1.15" />
<rect x="458.75" y="209.25" width="5" height="3.25" fill="#134f85"/>
<rect x="465.75" y="195" width="5" height="17.5" fill="#c51632"/>
<line x1="464.75" y1="212.5" x2="464.75" y2="215.5" stroke="#000" stroke-width="1" />
<line x1="487.5" y1="188.75" x2="487.5" y2="197.5" stroke="#222" stroke-width="1" />
<line x1="485.5" y1="188.75" x2="489.5" y2="188.75" stroke="#222" stroke-width="1.15" />
<rect x="478" y="210.5" width="5" height="2" fill="#134f85"/>
<rect x="485" y="197.5" width="5" height="15" fill="#c51632"/>
<line x1="484" y1="212.5" x2="484" y2="215.5" stroke="#000" stroke-width="1" />
<text x="391.68" y="220.5" font-size="7.8" text-anchor="end" fill="#000" font-weight="normal" stroke="#000" stroke-width="0.1" transform="rotate(-45 391.68 220.5)">0</text>
<text x="410.68" y="220.5" font-size="7.8" text-anchor="end" fill="#000" font-weight="normal" stroke="#000" stroke-width="0.1" transform="rotate(-45 410.68 220.5)">2</text>
<text x="429.43" y="220.5" font-size="7.8" text-anchor="end" fill="#000" font-weight="normal" stroke="#000" stroke-width="0.1" transform="rotate(-45 429.43 220.5)">4</text>
<text x="448.43" y="220.5" font-size="7.8" text-anchor="end" fill="#000" font-weight="normal" stroke="#000" stroke-width="0.1" transform="rotate(-45 448.43 220.5)">6</text>
<text x="467.55" y="220.5" font-size="7.8" text-anchor="end" fill="#000" font-weight="normal" stroke="#000" stroke-width="0.1" transform="rotate(-45 467.55 220.5)">8</text>
<text x="486.8" y="220.5" font-size="7.8" text-anchor="end" fill="#000" font-weight="normal" stroke="#000" stroke-width="0.1" transform="rotate(-45 486.8 220.5)">10</text>
<text x="438" y="134.4" font-size="7.9" text-anchor="middle" fill="#000" font-weight="normal" stroke="#000" stroke-width="0.03">RPMI8266</text>
<text x="439.4" y="236" font-size="8.8" text-anchor="middle" fill="#000" font-weight="normal" stroke="#000" stroke-width="0.2" textLength="46" lengthAdjust="spacingAndGlyphs">A-1210477 [μM]</text>
<rect x="435" y="140" width="8.75" height="4.6" fill="#134f85"/>
<rect x="435" y="148.9" width="8.75" height="4.6" fill="#c51632"/>
<text x="445.7" y="144.7" font-size="7" text-anchor="start" fill="#000" font-weight="normal" stroke="#000" stroke-width="0.1">Mono-culture</text>
<text x="445.7" y="153.6" font-size="7" text-anchor="start" fill="#000" font-weight="normal" stroke="#000" stroke-width="0.1">Co-culture</text>
<line x1="425.75" y1="163" x2="429.5" y2="163" stroke="#000" stroke-width="1" />
<text x="427.62" y="163.9" font-size="10" text-anchor="middle" fill="#000" font-weight="normal" stroke="#000" stroke-width="0.1">*</text>
<line x1="445.5" y1="168" x2="449.5" y2="168" stroke="#000" stroke-width="1" />
<text x="447.5" y="168.9" font-size="10" text-anchor="middle" fill="#000" font-weight="normal" stroke="#000" stroke-width="0.1">*</text>
<line x1="48.75" y1="257" x2="48.75" y2="334" stroke="#000" stroke-width="1" />
<line x1="48.25" y1="333.5" x2="164.2" y2="333.5" stroke="#000" stroke-width="1" />
<line x1="45.25" y1="333.5" x2="48.75" y2="333.5" stroke="#000" stroke-width="1" />
<text x="42.65" y="336.3" font-size="7.9" text-anchor="end" fill="#000" font-weight="normal" stroke="#000" stroke-width="0.1">0</text>
<line x1="45.25" y1="309" x2="48.75" y2="309" stroke="#000" stroke-width="1" />
<text x="42.65" y="311.8" font-size="7.9" text-anchor="end" fill="#000" font-weight="normal" stroke="#000" stroke-width="0.1">50</text>
<line x1="45.25" y1="284.5" x2="48.75" y2="284.5" stroke="#000" stroke-width="1" />
<text x="42.65" y="287.3" font-size="7.9" text-anchor="end" fill="#000" font-weight="normal" stroke="#000" stroke-width="0.1">100</text>
<line x1="45.25" y1="260" x2="48.75" y2="260" stroke="#000" stroke-width="1" />
<text x="42.65" y="262.8" font-size="7.9" text-anchor="end" fill="#000" font-weight="normal" stroke="#000" stroke-width="0.1">150</text>
<line x1="54.12" y1="287" x2="54.12" y2="288.25" stroke="#222" stroke-width="1" />
<line x1="52.12" y1="287" x2="56.12" y2="287" stroke="#222" stroke-width="1.15" />
<line x1="61.12" y1="293" x2="61.12" y2="295" stroke="#222" stroke-width="1" />
<line x1="59.12" y1="293" x2="63.12" y2="293" stroke="#222" stroke-width="1.15" />
<rect x="51.25" y="288.25" width="5.75" height="45.25" fill="#134f85"/>
<rect x="58.25" y="295" width="5.75" height="38.5" fill="#c51632"/>
<line x1="57.62" y1="333.5" x2="57.62" y2="336.5" stroke="#000" stroke-width="1" />
<line x1="72.38" y1="319.25" x2="72.38" y2="323.75" stroke="#222" stroke-width="1" />
<line x1="70.38" y1="319.25" x2="74.38" y2="319.25" stroke="#222" stroke-width="1.15" />
<line x1="79.62" y1="330" x2="79.62" y2="331.25" stroke="#222" stroke-width="1" />
<line x1="77.62" y1="330" x2="81.62" y2="330" stroke="#222" stroke-width="1.15" />
<rect x="69.5" y="323.75" width="5.75" height="9.75" fill="#134f85"/>
<rect x="76.75" y="331.25" width="5.75" height="2.25" fill="#c51632"/>
<line x1="76" y1="333.5" x2="76" y2="336.5" stroke="#000" stroke-width="1" />
<line x1="90.88" y1="285.5" x2="90.88" y2="287" stroke="#222" stroke-width="1" />
<line x1="88.88" y1="285.5" x2="92.88" y2="285.5" stroke="#222" stroke-width="1.15" />
<line x1="97.88" y1="292" x2="97.88" y2="298" stroke="#222" stroke-width="1" />
<line x1="95.88" y1="292" x2="99.88" y2="292" stroke="#222" stroke-width="1.15" />
<rect x="88" y="287" width="5.75" height="46.5" fill="#134f85"/>
<rect x="95" y="298" width="5.75" height="35.5" fill="#c51632"/>
<line x1="94.38" y1="333.5" x2="94.38" y2="336.5" stroke="#000" stroke-width="1" />
<line x1="109.12" y1="290" x2="109.12" y2="304.5" stroke="#222" stroke-width="1" />
<line x1="107.12" y1="290" x2="111.12" y2="290" stroke="#222" stroke-width="1.15" />
<line x1="115.88" y1="318" x2="115.88" y2="321.75" stroke="#222" stroke-width="1" />
<line x1="113.88" y1="318" x2="117.88" y2="318" stroke="#222" stroke-width="1.15" />
<rect x="106.25" y="304.5" width="5.75" height="29" fill="#134f85"/>
<rect x="113" y="321.75" width="5.75" height="11.75" fill="#c51632"/>
<line x1="112.5" y1="333.5" x2="112.5" y2="336.5" stroke="#000" stroke-width="1" />
<line x1="134.62" y1="300" x2="134.62" y2="303.25" stroke="#222" stroke-width="1" />
<line x1="132.62" y1="300" x2="136.62" y2="300" stroke="#222" stroke-width="1.15" />
<rect x="125" y="291.75" width="5.75" height="41.75" fill="#134f85"/>
<rect x="131.75" y="303.25" width="5.75" height="30.25" fill="#c51632"/>
<line x1="131.25" y1="333.5" x2="131.25" y2="336.5" stroke="#000" stroke-width="1" />
<line x1="146.12" y1="324" x2="146.12" y2="327" stroke="#222" stroke-width="1" />
<line x1="144.12" y1="324" x2="148.12" y2="324" stroke="#222" stroke-width="1.15" />
<line x1="152.88" y1="328" x2="152.88" y2="329.5" stroke="#222" stroke-width="1" />
<line x1="150.88" y1="328" x2="154.88" y2="328" stroke="#222" stroke-width="1.15" />
<rect x="143.25" y="327" width="5.75" height="6.5" fill="#134f85"/>
<rect x="150" y="329.5" width="5.75" height="4" fill="#c51632"/>
<line x1="149.5" y1="333.5" x2="149.5" y2="336.5" stroke="#000" stroke-width="1" />
<text x="58" y="343.6" font-size="5.2" text-anchor="middle" fill="#222" font-weight="normal">DMSO</text>
<text x="58" y="349.8" font-size="5.2" text-anchor="middle" fill="#222" font-weight="normal">0.1%</text>
<text x="75.75" y="343.6" font-size="5.2" text-anchor="middle" fill="#222" font-weight="normal">S63845</text>
<text x="75.75" y="349.8" font-size="5.2" text-anchor="middle" fill="#222" font-weight="normal">75 nM</text>
<text x="94.25" y="343.6" font-size="5.2" text-anchor="middle" fill="#222" font-weight="normal">DMSO</text>
<text x="94.25" y="349.8" font-size="5.2" text-anchor="middle" fill="#222" font-weight="normal">0.1%</text>
<text x="112.5" y="343.6" font-size="5.2" text-anchor="middle" fill="#222" font-weight="normal">S63845</text>
<text x="112.5" y="349.8" font-size="5.2" text-anchor="middle" fill="#222" font-weight="normal">75 nM</text>
<text x="131.25" y="343.6" font-size="5.2" text-anchor="middle" fill="#222" font-weight="normal">DMSO</text>
<text x="131.25" y="349.8" font-size="5.2" text-anchor="middle" fill="#222" font-weight="normal">0.1%</text>
<text x="149.25" y="343.6" font-size="5.2" text-anchor="middle" fill="#222" font-weight="normal">S63845</text>
<text x="149.25" y="349.8" font-size="5.2" text-anchor="middle" fill="#222" font-weight="normal">75 nM</text>
<line x1="51.25" y1="355.5" x2="83" y2="355.5" stroke="#333" stroke-width="1.1" />
<line x1="88" y1="355.5" x2="120" y2="355.5" stroke="#333" stroke-width="1.1" />
<line x1="125" y1="355.5" x2="156.75" y2="355.5" stroke="#333" stroke-width="1.1" />
<text x="66.25" y="364.2" font-size="6.3" text-anchor="middle" fill="#000" font-weight="normal" stroke="#000" stroke-width="0.03">Mono-culture</text>
<text x="105" y="364.2" font-size="6.3" text-anchor="middle" fill="#000" font-weight="normal" stroke="#000" stroke-width="0.03">Co-culture</text>
<text x="142.5" y="364.2" font-size="6.3" text-anchor="middle" fill="#000" font-weight="normal" stroke="#000" stroke-width="0.03">Co-culture</text>
<text x="142.5" y="371.2" font-size="6.3" text-anchor="middle" fill="#000" font-weight="normal" stroke="#000" stroke-width="0.03">+transwells</text>
<text x="110.5" y="252.6" font-size="7.5" text-anchor="middle" fill="#000" font-weight="normal" stroke="#000" stroke-width="0.08">Co-culture with MSCT<tspan font-size="5" dy="-3">+</tspan></text>
<text x="18.27" y="299" font-size="8.2" text-anchor="middle" fill="#000" font-weight="normal" stroke="#000" stroke-width="0.22" textLength="40" lengthAdjust="spacingAndGlyphs" transform="rotate(-90 18.27 299)">% viable cells</text>
<text x="27.47" y="299" font-size="8.2" text-anchor="middle" fill="#000" font-weight="normal" stroke="#000" stroke-width="0.22" textLength="88.3" lengthAdjust="spacingAndGlyphs" transform="rotate(-90 27.47 299)">(Annexin V and 7AAD negative)</text>
<rect x="55" y="257.5" width="10" height="5" fill="#134f85"/>
<rect x="55" y="267" width="10" height="5" fill="#c51632"/>
<text x="67.2" y="262.4" font-size="7" text-anchor="start" fill="#000" font-weight="normal" stroke="#000" stroke-width="0.1">OPM2</text>
<text x="67.2" y="271.9" font-size="7" text-anchor="start" fill="#000" font-weight="normal" stroke="#000" stroke-width="0.1">RPMI8226</text>
<polyline points="72.5,316 72.5,280 109.5,280 109.5,284" fill="none" stroke="#333" stroke-width="0.9"/>
<text x="92.5" y="282.2" font-size="9.5" text-anchor="middle" fill="#000" font-weight="normal" stroke="#000" stroke-width="0.1">***</text>
<line x1="204.4" y1="257" x2="204.4" y2="334.25" stroke="#000" stroke-width="1" />
<line x1="203.9" y1="333.75" x2="314.25" y2="333.75" stroke="#000" stroke-width="1" />
<line x1="200.9" y1="333.75" x2="204.4" y2="333.75" stroke="#000" stroke-width="1" />
<text x="198.3" y="336.55" font-size="7.9" text-anchor="end" fill="#000" font-weight="normal" stroke="#000" stroke-width="0.1">0</text>
<line x1="200.9" y1="318.85" x2="204.4" y2="318.85" stroke="#000" stroke-width="1" />
<text x="198.3" y="321.65" font-size="7.9" text-anchor="end" fill="#000" font-weight="normal" stroke="#000" stroke-width="0.1">20</text>
<line x1="200.9" y1="303.95" x2="204.4" y2="303.95" stroke="#000" stroke-width="1" />
<text x="198.3" y="306.75" font-size="7.9" text-anchor="end" fill="#000" font-weight="normal" stroke="#000" stroke-width="0.1">40</text>
<line x1="200.9" y1="289.05" x2="204.4" y2="289.05" stroke="#000" stroke-width="1" />
<text x="198.3" y="291.85" font-size="7.9" text-anchor="end" fill="#000" font-weight="normal" stroke="#000" stroke-width="0.1">60</text>
<line x1="200.9" y1="274.15" x2="204.4" y2="274.15" stroke="#000" stroke-width="1" />
<text x="198.3" y="276.95" font-size="7.9" text-anchor="end" fill="#000" font-weight="normal" stroke="#000" stroke-width="0.1">80</text>
<line x1="200.9" y1="259.25" x2="204.4" y2="259.25" stroke="#000" stroke-width="1" />
<text x="198.3" y="262.05" font-size="7.9" text-anchor="end" fill="#000" font-weight="normal" stroke="#000" stroke-width="0.1">100</text>
<line x1="210.38" y1="263.75" x2="210.38" y2="265" stroke="#222" stroke-width="1" />
<line x1="208.38" y1="263.75" x2="212.38" y2="263.75" stroke="#222" stroke-width="1.15" />
<line x1="217.12" y1="268" x2="217.12" y2="273.75" stroke="#222" stroke-width="1" />
<line x1="215.12" y1="268" x2="219.12" y2="268" stroke="#222" stroke-width="1.15" />
<rect x="207.5" y="265" width="5.75" height="68.75" fill="#134f85"/>
<rect x="214.25" y="273.75" width="5.75" height="60" fill="#c51632"/>
<line x1="213.75" y1="333.75" x2="213.75" y2="336.75" stroke="#000" stroke-width="1" />
<line x1="229.12" y1="312" x2="229.12" y2="317.5" stroke="#222" stroke-width="1" />
<line x1="227.12" y1="312" x2="231.12" y2="312" stroke="#222" stroke-width="1.15" />
<line x1="235.88" y1="320.75" x2="235.88" y2="326.25" stroke="#222" stroke-width="1" />
<line x1="233.88" y1="320.75" x2="237.88" y2="320.75" stroke="#222" stroke-width="1.15" />
<rect x="226.25" y="317.5" width="5.75" height="16.25" fill="#134f85"/>
<rect x="233" y="326.25" width="5.75" height="7.5" fill="#c51632"/>
<line x1="232.5" y1="333.75" x2="232.5" y2="336.75" stroke="#000" stroke-width="1" />
<line x1="247.12" y1="263.5" x2="247.12" y2="265" stroke="#222" stroke-width="1" />
<line x1="245.12" y1="263.5" x2="249.12" y2="263.5" stroke="#222" stroke-width="1.15" />
<line x1="254.12" y1="267.5" x2="254.12" y2="273.25" stroke="#222" stroke-width="1" />
<line x1="252.12" y1="267.5" x2="256.12" y2="267.5" stroke="#222" stroke-width="1.15" />
<rect x="244.25" y="265" width="5.75" height="68.75" fill="#134f85"/>
<rect x="251.25" y="273.25" width="5.75" height="60.5" fill="#c51632"/>
<line x1="250.62" y1="333.75" x2="250.62" y2="336.75" stroke="#000" stroke-width="1" />
<line x1="265.88" y1="289.5" x2="265.88" y2="300" stroke="#222" stroke-width="1" />
<line x1="263.88" y1="289.5" x2="267.88" y2="289.5" stroke="#222" stroke-width="1.15" />
<line x1="272.88" y1="289.5" x2="272.88" y2="297" stroke="#222" stroke-width="1" />
<line x1="270.88" y1="289.5" x2="274.88" y2="289.5" stroke="#222" stroke-width="1.15" />
<rect x="263" y="300" width="5.75" height="33.75" fill="#134f85"/>
<rect x="270" y="297" width="5.75" height="36.75" fill="#c51632"/>
<line x1="269.38" y1="333.75" x2="269.38" y2="336.75" stroke="#000" stroke-width="1" />
<line x1="284.88" y1="263.25" x2="284.88" y2="266.25" stroke="#222" stroke-width="1" />
<line x1="282.88" y1="263.25" x2="286.88" y2="263.25" stroke="#222" stroke-width="1.15" />
<line x1="291.62" y1="290" x2="291.62" y2="297.5" stroke="#222" stroke-width="1" />
<line x1="289.62" y1="290" x2="293.62" y2="290" stroke="#222" stroke-width="1.15" />
<rect x="282" y="266.25" width="5.75" height="67.5" fill="#134f85"/>
<rect x="288.75" y="297.5" width="5.75" height="36.25" fill="#c51632"/>
<line x1="288.25" y1="333.75" x2="288.25" y2="336.75" stroke="#000" stroke-width="1" />
<line x1="302.88" y1="300.5" x2="302.88" y2="313.25" stroke="#222" stroke-width="1" />
<line x1="300.88" y1="300.5" x2="304.88" y2="300.5" stroke="#222" stroke-width="1.15" />
<line x1="310.38" y1="321.25" x2="310.38" y2="325.75" stroke="#222" stroke-width="1" />
<line x1="308.38" y1="321.25" x2="312.38" y2="321.25" stroke="#222" stroke-width="1.15" />
<rect x="300" y="313.25" width="5.75" height="20.5" fill="#134f85"/>
<rect x="307.5" y="325.75" width="5.75" height="8" fill="#c51632"/>
<line x1="306.62" y1="333.75" x2="306.62" y2="336.75" stroke="#000" stroke-width="1" />
<text x="213.75" y="343.6" font-size="5.2" text-anchor="middle" fill="#222" font-weight="normal">DMSO</text>
<text x="213.75" y="349.8" font-size="5.2" text-anchor="middle" fill="#222" font-weight="normal">0.1%</text>
<text x="232" y="343.6" font-size="5.2" text-anchor="middle" fill="#222" font-weight="normal">S63845</text>
<text x="232" y="349.8" font-size="5.2" text-anchor="middle" fill="#222" font-weight="normal">75 nM</text>
<text x="250.75" y="343.6" font-size="5.2" text-anchor="middle" fill="#222" font-weight="normal">DMSO</text>
<text x="250.75" y="349.8" font-size="5.2" text-anchor="middle" fill="#222" font-weight="normal">0.1%</text>
<text x="268.75" y="343.6" font-size="5.2" text-anchor="middle" fill="#222" font-weight="normal">S63845</text>
<text x="268.75" y="349.8" font-size="5.2" text-anchor="middle" fill="#222" font-weight="normal">75 nM</text>
<text x="287" y="343.6" font-size="5.2" text-anchor="middle" fill="#222" font-weight="normal">DMSO</text>
<text x="287" y="349.8" font-size="5.2" text-anchor="middle" fill="#222" font-weight="normal">0.1%</text>
<text x="305.5" y="343.6" font-size="5.2" text-anchor="middle" fill="#222" font-weight="normal">S63845</text>
<text x="305.5" y="349.8" font-size="5.2" text-anchor="middle" fill="#222" font-weight="normal">75 nM</text>
<line x1="207" y1="355.5" x2="238.75" y2="355.5" stroke="#333" stroke-width="1.1" />
<line x1="243.75" y1="355.5" x2="276.25" y2="355.5" stroke="#333" stroke-width="1.1" />
<line x1="281.25" y1="355.5" x2="313.75" y2="355.5" stroke="#333" stroke-width="1.1" />
<text x="222.5" y="364.2" font-size="6.3" text-anchor="middle" fill="#000" font-weight="normal" stroke="#000" stroke-width="0.03">Mono-culture</text>
<text x="260.75" y="364.2" font-size="6.3" text-anchor="middle" fill="#000" font-weight="normal" stroke="#000" stroke-width="0.03">Co-culture</text>
<text x="297.5" y="364.2" font-size="6.3" text-anchor="middle" fill="#000" font-weight="normal" stroke="#000" stroke-width="0.03">Co-culture</text>
<text x="297.5" y="371.2" font-size="6.3" text-anchor="middle" fill="#000" font-weight="normal" stroke="#000" stroke-width="0.03">+transwells</text>
<text x="262.1" y="250.6" font-size="7.7" text-anchor="middle" fill="#000" font-weight="normal" stroke="#000" stroke-width="0.08">Co-culture with HS5</text>
<text x="173.27" y="299" font-size="8.2" text-anchor="middle" fill="#000" font-weight="normal" stroke="#000" stroke-width="0.22" textLength="39.5" lengthAdjust="spacingAndGlyphs" transform="rotate(-90 173.27 299)">% viable cells</text>
<text x="182.67" y="299" font-size="8.2" text-anchor="middle" fill="#000" font-weight="normal" stroke="#000" stroke-width="0.22" textLength="88" lengthAdjust="spacingAndGlyphs" transform="rotate(-90 182.67 299)">(Annexin V and 7AAD negative)</text>
<polyline points="228.25,287.5 228.25,257 265.5,257 265.5,260" fill="none" stroke="#333" stroke-width="0.9"/>
<polyline points="235.75,294.5 235.75,263.75 273,263.75 273,267" fill="none" stroke="#333" stroke-width="0.9"/>
<text x="247.5" y="259.5" font-size="9.5" text-anchor="middle" fill="#000" font-weight="normal" stroke="#000" stroke-width="0.1">*</text>
<text x="259.5" y="266" font-size="9.5" text-anchor="middle" fill="#000" font-weight="normal" stroke="#000" stroke-width="0.1">***</text>
<line x1="365.7" y1="251.25" x2="365.7" y2="345" stroke="#000" stroke-width="1.1" />
<line x1="365.2" y1="344.5" x2="505.4" y2="344.5" stroke="#000" stroke-width="1.1" />
<line x1="362.7" y1="344.5" x2="365.7" y2="344.5" stroke="#000" stroke-width="1" />
<text x="361.7" y="347.3" font-size="8.3" text-anchor="end" fill="#000" font-weight="normal" stroke="#000" stroke-width="0.1">0</text>
<line x1="362.7" y1="313.42" x2="365.7" y2="313.42" stroke="#000" stroke-width="1" />
<text x="361.7" y="316.22" font-size="8.3" text-anchor="end" fill="#000" font-weight="normal" stroke="#000" stroke-width="0.1">50</text>
<line x1="362.7" y1="282.33" x2="365.7" y2="282.33" stroke="#000" stroke-width="1" />
<text x="361.7" y="285.13" font-size="8.3" text-anchor="end" fill="#000" font-weight="normal" stroke="#000" stroke-width="0.1">100</text>
<line x1="362.7" y1="251.25" x2="365.7" y2="251.25" stroke="#000" stroke-width="1" />
<text x="361.7" y="254.05" font-size="8.3" text-anchor="end" fill="#000" font-weight="normal" stroke="#000" stroke-width="0.1">150</text>
<line x1="365.7" y1="344.5" x2="365.7" y2="347.3" stroke="#000" stroke-width="1" />
<text x="363.7" y="355.5" font-size="7.6" text-anchor="middle" fill="#000" font-weight="normal" stroke="#000" stroke-width="0.1">10</text>
<text x="368.3" y="352.9" font-size="5.4" text-anchor="start" fill="#000" font-weight="normal" stroke="#000" stroke-width="0.05">&#8722;2</text>
<line x1="374.11" y1="344.5" x2="374.11" y2="346.2" stroke="#000" stroke-width="0.8" />
<line x1="379.03" y1="344.5" x2="379.03" y2="346.2" stroke="#000" stroke-width="0.8" />
<line x1="382.52" y1="344.5" x2="382.52" y2="346.2" stroke="#000" stroke-width="0.8" />
<line x1="385.23" y1="344.5" x2="385.23" y2="346.2" stroke="#000" stroke-width="0.8" />
<line x1="387.44" y1="344.5" x2="387.44" y2="346.2" stroke="#000" stroke-width="0.8" />
<line x1="389.31" y1="344.5" x2="389.31" y2="346.2" stroke="#000" stroke-width="0.8" />
<line x1="390.93" y1="344.5" x2="390.93" y2="346.2" stroke="#000" stroke-width="0.8" />
<line x1="392.36" y1="344.5" x2="392.36" y2="346.2" stroke="#000" stroke-width="0.8" />
<line x1="393.64" y1="344.5" x2="393.64" y2="347.3" stroke="#000" stroke-width="1" />
<text x="391.64" y="355.5" font-size="7.6" text-anchor="middle" fill="#000" font-weight="normal" stroke="#000" stroke-width="0.1">10</text>
<text x="396.24" y="352.9" font-size="5.4" text-anchor="start" fill="#000" font-weight="normal" stroke="#000" stroke-width="0.05">&#8722;1</text>
<line x1="402.05" y1="344.5" x2="402.05" y2="346.2" stroke="#000" stroke-width="0.8" />
<line x1="406.97" y1="344.5" x2="406.97" y2="346.2" stroke="#000" stroke-width="0.8" />
<line x1="410.46" y1="344.5" x2="410.46" y2="346.2" stroke="#000" stroke-width="0.8" />
<line x1="413.17" y1="344.5" x2="413.17" y2="346.2" stroke="#000" stroke-width="0.8" />
<line x1="415.38" y1="344.5" x2="415.38" y2="346.2" stroke="#000" stroke-width="0.8" />
<line x1="417.25" y1="344.5" x2="417.25" y2="346.2" stroke="#000" stroke-width="0.8" />
<line x1="418.87" y1="344.5" x2="418.87" y2="346.2" stroke="#000" stroke-width="0.8" />
<line x1="420.3" y1="344.5" x2="420.3" y2="346.2" stroke="#000" stroke-width="0.8" />
<line x1="421.58" y1="344.5" x2="421.58" y2="347.3" stroke="#000" stroke-width="1" />
<text x="419.58" y="355.5" font-size="7.6" text-anchor="middle" fill="#000" font-weight="normal" stroke="#000" stroke-width="0.1">10</text>
<text x="424.18" y="352.9" font-size="5.4" text-anchor="start" fill="#000" font-weight="normal" stroke="#000" stroke-width="0.05">0</text>
<line x1="429.99" y1="344.5" x2="429.99" y2="346.2" stroke="#000" stroke-width="0.8" />
<line x1="434.91" y1="344.5" x2="434.91" y2="346.2" stroke="#000" stroke-width="0.8" />
<line x1="438.4" y1="344.5" x2="438.4" y2="346.2" stroke="#000" stroke-width="0.8" />
<line x1="441.11" y1="344.5" x2="441.11" y2="346.2" stroke="#000" stroke-width="0.8" />
<line x1="443.32" y1="344.5" x2="443.32" y2="346.2" stroke="#000" stroke-width="0.8" />
<line x1="445.19" y1="344.5" x2="445.19" y2="346.2" stroke="#000" stroke-width="0.8" />
<line x1="446.81" y1="344.5" x2="446.81" y2="346.2" stroke="#000" stroke-width="0.8" />
<line x1="448.24" y1="344.5" x2="448.24" y2="346.2" stroke="#000" stroke-width="0.8" />
<line x1="449.52" y1="344.5" x2="449.52" y2="347.3" stroke="#000" stroke-width="1" />
<text x="447.52" y="355.5" font-size="7.6" text-anchor="middle" fill="#000" font-weight="normal" stroke="#000" stroke-width="0.1">10</text>
<text x="452.12" y="352.9" font-size="5.4" text-anchor="start" fill="#000" font-weight="normal" stroke="#000" stroke-width="0.05">1</text>
<line x1="457.93" y1="344.5" x2="457.93" y2="346.2" stroke="#000" stroke-width="0.8" />
<line x1="462.85" y1="344.5" x2="462.85" y2="346.2" stroke="#000" stroke-width="0.8" />
<line x1="466.34" y1="344.5" x2="466.34" y2="346.2" stroke="#000" stroke-width="0.8" />
<line x1="469.05" y1="344.5" x2="469.05" y2="346.2" stroke="#000" stroke-width="0.8" />
<line x1="471.26" y1="344.5" x2="471.26" y2="346.2" stroke="#000" stroke-width="0.8" />
<line x1="473.13" y1="344.5" x2="473.13" y2="346.2" stroke="#000" stroke-width="0.8" />
<line x1="474.75" y1="344.5" x2="474.75" y2="346.2" stroke="#000" stroke-width="0.8" />
<line x1="476.18" y1="344.5" x2="476.18" y2="346.2" stroke="#000" stroke-width="0.8" />
<line x1="477.46" y1="344.5" x2="477.46" y2="347.3" stroke="#000" stroke-width="1" />
<text x="475.46" y="355.5" font-size="7.6" text-anchor="middle" fill="#000" font-weight="normal" stroke="#000" stroke-width="0.1">10</text>
<text x="480.06" y="352.9" font-size="5.4" text-anchor="start" fill="#000" font-weight="normal" stroke="#000" stroke-width="0.05">2</text>
<line x1="485.87" y1="344.5" x2="485.87" y2="346.2" stroke="#000" stroke-width="0.8" />
<line x1="490.79" y1="344.5" x2="490.79" y2="346.2" stroke="#000" stroke-width="0.8" />
<line x1="494.28" y1="344.5" x2="494.28" y2="346.2" stroke="#000" stroke-width="0.8" />
<line x1="496.99" y1="344.5" x2="496.99" y2="346.2" stroke="#000" stroke-width="0.8" />
<line x1="499.2" y1="344.5" x2="499.2" y2="346.2" stroke="#000" stroke-width="0.8" />
<line x1="501.07" y1="344.5" x2="501.07" y2="346.2" stroke="#000" stroke-width="0.8" />
<line x1="502.69" y1="344.5" x2="502.69" y2="346.2" stroke="#000" stroke-width="0.8" />
<line x1="504.12" y1="344.5" x2="504.12" y2="346.2" stroke="#000" stroke-width="0.8" />
<line x1="505.4" y1="344.5" x2="505.4" y2="347.3" stroke="#000" stroke-width="1" />
<text x="503.4" y="355.5" font-size="7.6" text-anchor="middle" fill="#000" font-weight="normal" stroke="#000" stroke-width="0.1">10</text>
<text x="508" y="352.9" font-size="5.4" text-anchor="start" fill="#000" font-weight="normal" stroke="#000" stroke-width="0.05">3</text>
<text x="432.6" y="251.6" font-size="9.1" text-anchor="middle" fill="#000" font-weight="normal" stroke="#000" stroke-width="0.1">OPM2</text>
<text x="370.6" y="264.4" font-size="7.4" text-anchor="start"><tspan fill="#111" stroke="#111" stroke-width="0.15">IC50: </tspan><tspan fill="#24649f" stroke="#24649f" stroke-width="0.12">32 nM</tspan><tspan fill="#111" stroke="#111" stroke-width="0.1" font-size="6.6"> vs. </tspan><tspan fill="#c8143a" stroke="#c8143a" stroke-width="0.12">81 nM</tspan><tspan fill="#111" stroke="#111" stroke-width="0.1" font-size="6.6"> vs. </tspan><tspan fill="#2aa8e2" stroke="#2aa8e2" stroke-width="0.12">39 nM</tspan><tspan fill="#111" stroke="#111" stroke-width="0.1" font-size="6.6"> vs. </tspan><tspan fill="#5a2d8a" stroke="#5a2d8a" stroke-width="0.12">30 nM</tspan></text>
<text x="335.97" y="298" font-size="8.2" text-anchor="middle" fill="#000" font-weight="normal" stroke="#000" stroke-width="0.22" textLength="39.5" lengthAdjust="spacingAndGlyphs" transform="rotate(-90 335.97 298)">% viable cells</text>
<text x="345.37" y="298" font-size="8.2" text-anchor="middle" fill="#000" font-weight="normal" stroke="#000" stroke-width="0.22" textLength="88" lengthAdjust="spacingAndGlyphs" transform="rotate(-90 345.37 298)">(Annexin V and 7AAD negative)</text>
<polyline points="393.64,282.33 395.05,282.33 396.45,282.33 397.86,282.33 399.27,282.33 400.67,282.34 402.08,282.34 403.48,282.34 404.89,282.34 406.3,282.34 407.7,282.35 409.11,282.35 410.52,282.36 411.92,282.36 413.33,282.37 414.73,282.38 416.14,282.39 417.55,282.4 418.95,282.42 420.36,282.44 421.77,282.47 423.17,282.5 424.58,282.54 425.99,282.59 427.39,282.65 428.8,282.73 430.2,282.82 431.61,282.93 433.02,283.07 434.42,283.23 435.83,283.44 437.24,283.69 438.64,284 440.05,284.37 441.45,284.83 442.86,285.38 444.27,286.04 445.67,286.84 447.08,287.8 448.49,288.93 449.89,290.27 451.3,291.83 452.71,293.63 454.11,295.69 455.52,298 456.92,300.57 458.33,303.37 459.74,306.37 461.14,309.51 462.55,312.73 463.96,315.96 465.36,319.15 466.77,322.21 468.17,325.1 469.58,327.77 470.99,330.19 472.39,332.36 473.8,334.27 475.21,335.93 476.61,337.36 478.02,338.58" fill="none" stroke="#5e2d85" stroke-width="1.3"/>
<polyline points="393.64,282.33 395.04,282.33 396.43,282.33 397.83,282.33 399.23,282.34 400.62,282.34 402.02,282.34 403.42,282.34 404.82,282.34 406.21,282.34 407.61,282.35 409.01,282.35 410.4,282.35 411.8,282.36 413.2,282.36 414.59,282.37 415.99,282.37 417.39,282.38 418.79,282.39 420.18,282.4 421.58,282.42 422.98,282.43 424.37,282.45 425.77,282.47 427.17,282.5 428.56,282.53 429.96,282.57 431.36,282.61 432.76,282.67 434.15,282.73 435.55,282.81 436.95,282.9 438.34,283 439.74,283.13 441.14,283.27 442.53,283.45 443.93,283.66 445.33,283.9 446.73,284.19 448.12,284.52 449.52,284.92 450.92,285.38 452.31,285.93 453.71,286.56 455.11,287.29 456.5,288.14 457.9,289.11 459.3,290.23 460.7,291.5 462.09,292.93 463.49,294.54 464.89,296.32 466.28,298.28 467.68,300.41 469.08,302.71 470.48,305.14 471.87,307.68 473.27,310.31 474.67,312.99 476.06,315.67 477.46,318.31" fill="none" stroke="#c51632" stroke-width="1.6" stroke-dasharray="3.6,2"/>
<polyline points="393.64,282.33 395.05,282.33 396.45,282.33 397.86,282.33 399.27,282.33 400.67,282.33 402.08,282.33 403.48,282.33 404.89,282.33 406.3,282.34 407.7,282.34 409.11,282.34 410.52,282.34 411.92,282.34 413.33,282.35 414.73,282.35 416.14,282.36 417.55,282.36 418.95,282.37 420.36,282.38 421.77,282.39 423.17,282.41 424.58,282.42 425.99,282.45 427.39,282.48 428.8,282.51 430.2,282.56 431.61,282.61 433.02,282.68 434.42,282.77 435.83,282.88 437.24,283.01 438.64,283.18 440.05,283.38 441.45,283.63 442.86,283.95 444.27,284.33 445.67,284.8 447.08,285.38 448.49,286.09 449.89,286.95 451.3,287.98 452.71,289.22 454.11,290.69 455.52,292.41 456.92,294.41 458.33,296.7 459.74,299.28 461.14,302.12 462.55,305.21 463.96,308.47 465.36,311.85 466.77,315.27 468.17,318.65 469.58,321.9 470.99,324.96 472.39,327.78 473.8,330.34 475.21,332.6 476.61,334.58 478.02,336.28" fill="none" stroke="#2aa6e0" stroke-width="1.3"/>
<polyline points="393.64,282.33 395.05,282.33 396.45,282.33 397.86,282.33 399.27,282.33 400.67,282.33 402.08,282.33 403.48,282.33 404.89,282.33 406.3,282.33 407.7,282.34 409.11,282.34 410.52,282.34 411.92,282.34 413.33,282.35 414.73,282.35 416.14,282.35 417.55,282.36 418.95,282.37 420.36,282.38 421.77,282.39 423.17,282.41 424.58,282.43 425.99,282.46 427.39,282.49 428.8,282.53 430.2,282.58 431.61,282.65 433.02,282.73 434.42,282.83 435.83,282.96 437.24,283.12 438.64,283.33 440.05,283.58 441.45,283.9 442.86,284.29 444.27,284.79 445.67,285.39 447.08,286.14 448.49,287.06 449.89,288.18 451.3,289.53 452.71,291.14 454.11,293.05 455.52,295.26 456.92,297.8 458.33,300.64 459.74,303.77 461.14,307.13 462.55,310.65 463.96,314.25 465.36,317.82 466.77,321.28 468.17,324.54 469.58,327.55 470.99,330.25 472.39,332.63 473.8,334.7 475.21,336.47 476.61,337.95 478.02,339.19" fill="none" stroke="#134f85" stroke-width="1.5" stroke-dasharray="3.6,2"/>
<rect x="392.5" y="286.3" width="3.4" height="3.4" fill="#111"/>
<rect x="451.2" y="287.45" width="2.6" height="2.6" fill="#fff" stroke="#111" stroke-width="0.9"/>
<rect x="450.8" y="290.8" width="3.4" height="3.4" fill="#111"/>
<circle cx="452.5" cy="290" r="1.7" fill="#111"/>
<rect x="458.9" y="288.3" width="3.4" height="3.4" fill="#111"/>
<polygon points="460.6,297.9 462.7,300 460.6,302.1 458.5,300" fill="#111"/>
<circle cx="460.6" cy="303" r="1.7" fill="#111"/>
<rect x="459.3" y="306.2" width="2.6" height="2.6" fill="#fff" stroke="#111" stroke-width="0.9"/>
<rect x="467.7" y="298.3" width="3.4" height="3.4" fill="#111"/>
<polygon points="469.4,317.9 471.5,320 469.4,322.1 467.3,320" fill="#111"/>
<circle cx="469.4" cy="322" r="1.7" fill="#111"/>
<rect x="468.1" y="326.7" width="2.6" height="2.6" fill="#fff" stroke="#111" stroke-width="0.9"/>
<rect x="472.7" y="307.7" width="3.4" height="3.4" fill="#111"/>
<polygon points="474.4,328.9 476.5,331 474.4,333.1 472.3,331" fill="#111"/>
<rect x="473.1" y="333.7" width="2.6" height="2.6" fill="#fff" stroke="#111" stroke-width="0.9"/>
<rect x="476.2" y="319.3" width="3.4" height="3.4" fill="#111"/>
<polygon points="478,333.9 480.1,336 478,338.1 475.9,336" fill="#111"/>
<circle cx="478" cy="339" r="1.7" fill="#111"/>
<rect x="476.2" y="339.7" width="2.6" height="2.6" fill="#fff" stroke="#111" stroke-width="0.9"/>
<line x1="52" y1="380.5" x2="52" y2="473.75" stroke="#000" stroke-width="1.1" />
<line x1="51.5" y1="473.25" x2="191.25" y2="473.25" stroke="#000" stroke-width="1.1" />
<line x1="49" y1="473.25" x2="52" y2="473.25" stroke="#000" stroke-width="1" />
<text x="46.2" y="476.05" font-size="8.3" text-anchor="end" fill="#000" font-weight="normal" stroke="#000" stroke-width="0.1">0</text>
<line x1="49" y1="442.6" x2="52" y2="442.6" stroke="#000" stroke-width="1" />
<text x="46.2" y="445.4" font-size="8.3" text-anchor="end" fill="#000" font-weight="normal" stroke="#000" stroke-width="0.1">50</text>
<line x1="49" y1="411.95" x2="52" y2="411.95" stroke="#000" stroke-width="1" />
<text x="46.2" y="414.75" font-size="8.3" text-anchor="end" fill="#000" font-weight="normal" stroke="#000" stroke-width="0.1">100</text>
<line x1="49" y1="381.3" x2="52" y2="381.3" stroke="#000" stroke-width="1" />
<text x="46.2" y="384.1" font-size="8.3" text-anchor="end" fill="#000" font-weight="normal" stroke="#000" stroke-width="0.1">150</text>
<line x1="52" y1="473.25" x2="52" y2="476.05" stroke="#000" stroke-width="1" />
<text x="50" y="484.25" font-size="7.6" text-anchor="middle" fill="#000" font-weight="normal" stroke="#000" stroke-width="0.1">10</text>
<text x="54.6" y="481.65" font-size="5.4" text-anchor="start" fill="#000" font-weight="normal" stroke="#000" stroke-width="0.05">&#8722;3</text>
<line x1="58.99" y1="473.25" x2="58.99" y2="474.95" stroke="#000" stroke-width="0.8" />
<line x1="63.07" y1="473.25" x2="63.07" y2="474.95" stroke="#000" stroke-width="0.8" />
<line x1="65.97" y1="473.25" x2="65.97" y2="474.95" stroke="#000" stroke-width="0.8" />
<line x1="68.22" y1="473.25" x2="68.22" y2="474.95" stroke="#000" stroke-width="0.8" />
<line x1="70.06" y1="473.25" x2="70.06" y2="474.95" stroke="#000" stroke-width="0.8" />
<line x1="71.61" y1="473.25" x2="71.61" y2="474.95" stroke="#000" stroke-width="0.8" />
<line x1="72.96" y1="473.25" x2="72.96" y2="474.95" stroke="#000" stroke-width="0.8" />
<line x1="74.15" y1="473.25" x2="74.15" y2="474.95" stroke="#000" stroke-width="0.8" />
<line x1="75.21" y1="473.25" x2="75.21" y2="476.05" stroke="#000" stroke-width="1" />
<text x="73.21" y="484.25" font-size="7.6" text-anchor="middle" fill="#000" font-weight="normal" stroke="#000" stroke-width="0.1">10</text>
<text x="77.81" y="481.65" font-size="5.4" text-anchor="start" fill="#000" font-weight="normal" stroke="#000" stroke-width="0.05">&#8722;2</text>
<line x1="82.2" y1="473.25" x2="82.2" y2="474.95" stroke="#000" stroke-width="0.8" />
<line x1="86.28" y1="473.25" x2="86.28" y2="474.95" stroke="#000" stroke-width="0.8" />
<line x1="89.18" y1="473.25" x2="89.18" y2="474.95" stroke="#000" stroke-width="0.8" />
<line x1="91.43" y1="473.25" x2="91.43" y2="474.95" stroke="#000" stroke-width="0.8" />
<line x1="93.27" y1="473.25" x2="93.27" y2="474.95" stroke="#000" stroke-width="0.8" />
<line x1="94.82" y1="473.25" x2="94.82" y2="474.95" stroke="#000" stroke-width="0.8" />
<line x1="96.17" y1="473.25" x2="96.17" y2="474.95" stroke="#000" stroke-width="0.8" />
<line x1="97.36" y1="473.25" x2="97.36" y2="474.95" stroke="#000" stroke-width="0.8" />
<line x1="98.42" y1="473.25" x2="98.42" y2="476.05" stroke="#000" stroke-width="1" />
<text x="96.42" y="484.25" font-size="7.6" text-anchor="middle" fill="#000" font-weight="normal" stroke="#000" stroke-width="0.1">10</text>
<text x="101.02" y="481.65" font-size="5.4" text-anchor="start" fill="#000" font-weight="normal" stroke="#000" stroke-width="0.05">&#8722;1</text>
<line x1="105.41" y1="473.25" x2="105.41" y2="474.95" stroke="#000" stroke-width="0.8" />
<line x1="109.49" y1="473.25" x2="109.49" y2="474.95" stroke="#000" stroke-width="0.8" />
<line x1="112.39" y1="473.25" x2="112.39" y2="474.95" stroke="#000" stroke-width="0.8" />
<line x1="114.64" y1="473.25" x2="114.64" y2="474.95" stroke="#000" stroke-width="0.8" />
<line x1="116.48" y1="473.25" x2="116.48" y2="474.95" stroke="#000" stroke-width="0.8" />
<line x1="118.03" y1="473.25" x2="118.03" y2="474.95" stroke="#000" stroke-width="0.8" />
<line x1="119.38" y1="473.25" x2="119.38" y2="474.95" stroke="#000" stroke-width="0.8" />
<line x1="120.57" y1="473.25" x2="120.57" y2="474.95" stroke="#000" stroke-width="0.8" />
<line x1="121.63" y1="473.25" x2="121.63" y2="476.05" stroke="#000" stroke-width="1" />
<text x="119.63" y="484.25" font-size="7.6" text-anchor="middle" fill="#000" font-weight="normal" stroke="#000" stroke-width="0.1">10</text>
<text x="124.23" y="481.65" font-size="5.4" text-anchor="start" fill="#000" font-weight="normal" stroke="#000" stroke-width="0.05">0</text>
<line x1="128.62" y1="473.25" x2="128.62" y2="474.95" stroke="#000" stroke-width="0.8" />
<line x1="132.7" y1="473.25" x2="132.7" y2="474.95" stroke="#000" stroke-width="0.8" />
<line x1="135.6" y1="473.25" x2="135.6" y2="474.95" stroke="#000" stroke-width="0.8" />
<line x1="137.85" y1="473.25" x2="137.85" y2="474.95" stroke="#000" stroke-width="0.8" />
<line x1="139.69" y1="473.25" x2="139.69" y2="474.95" stroke="#000" stroke-width="0.8" />
<line x1="141.24" y1="473.25" x2="141.24" y2="474.95" stroke="#000" stroke-width="0.8" />
<line x1="142.59" y1="473.25" x2="142.59" y2="474.95" stroke="#000" stroke-width="0.8" />
<line x1="143.78" y1="473.25" x2="143.78" y2="474.95" stroke="#000" stroke-width="0.8" />
<line x1="144.84" y1="473.25" x2="144.84" y2="476.05" stroke="#000" stroke-width="1" />
<text x="142.84" y="484.25" font-size="7.6" text-anchor="middle" fill="#000" font-weight="normal" stroke="#000" stroke-width="0.1">10</text>
<text x="147.44" y="481.65" font-size="5.4" text-anchor="start" fill="#000" font-weight="normal" stroke="#000" stroke-width="0.05">1</text>
<line x1="151.83" y1="473.25" x2="151.83" y2="474.95" stroke="#000" stroke-width="0.8" />
<line x1="155.91" y1="473.25" x2="155.91" y2="474.95" stroke="#000" stroke-width="0.8" />
<line x1="158.81" y1="473.25" x2="158.81" y2="474.95" stroke="#000" stroke-width="0.8" />
<line x1="161.06" y1="473.25" x2="161.06" y2="474.95" stroke="#000" stroke-width="0.8" />
<line x1="162.9" y1="473.25" x2="162.9" y2="474.95" stroke="#000" stroke-width="0.8" />
<line x1="164.45" y1="473.25" x2="164.45" y2="474.95" stroke="#000" stroke-width="0.8" />
<line x1="165.8" y1="473.25" x2="165.8" y2="474.95" stroke="#000" stroke-width="0.8" />
<line x1="166.99" y1="473.25" x2="166.99" y2="474.95" stroke="#000" stroke-width="0.8" />
<line x1="168.05" y1="473.25" x2="168.05" y2="476.05" stroke="#000" stroke-width="1" />
<text x="166.05" y="484.25" font-size="7.6" text-anchor="middle" fill="#000" font-weight="normal" stroke="#000" stroke-width="0.1">10</text>
<text x="170.65" y="481.65" font-size="5.4" text-anchor="start" fill="#000" font-weight="normal" stroke="#000" stroke-width="0.05">2</text>
<line x1="175.04" y1="473.25" x2="175.04" y2="474.95" stroke="#000" stroke-width="0.8" />
<line x1="179.12" y1="473.25" x2="179.12" y2="474.95" stroke="#000" stroke-width="0.8" />
<line x1="182.02" y1="473.25" x2="182.02" y2="474.95" stroke="#000" stroke-width="0.8" />
<line x1="184.27" y1="473.25" x2="184.27" y2="474.95" stroke="#000" stroke-width="0.8" />
<line x1="186.11" y1="473.25" x2="186.11" y2="474.95" stroke="#000" stroke-width="0.8" />
<line x1="187.66" y1="473.25" x2="187.66" y2="474.95" stroke="#000" stroke-width="0.8" />
<line x1="189.01" y1="473.25" x2="189.01" y2="474.95" stroke="#000" stroke-width="0.8" />
<line x1="190.2" y1="473.25" x2="190.2" y2="474.95" stroke="#000" stroke-width="0.8" />
<line x1="191.26" y1="473.25" x2="191.26" y2="476.05" stroke="#000" stroke-width="1" />
<text x="189.26" y="484.25" font-size="7.6" text-anchor="middle" fill="#000" font-weight="normal" stroke="#000" stroke-width="0.1">10</text>
<text x="193.86" y="481.65" font-size="5.4" text-anchor="start" fill="#000" font-weight="normal" stroke="#000" stroke-width="0.05">3</text>
<text x="121.3" y="384.6" font-size="9" text-anchor="middle" fill="#000" font-weight="normal" stroke="#000" stroke-width="0.1">RPMI8226</text>
<text x="57" y="396.2" font-size="7.4" text-anchor="start"><tspan fill="#111" stroke="#111" stroke-width="0.15">IC50: </tspan><tspan fill="#24649f" stroke="#24649f" stroke-width="0.12">32 nM</tspan><tspan fill="#111" stroke="#111" stroke-width="0.1" font-size="6.6"> vs. </tspan><tspan fill="#c8143a" stroke="#c8143a" stroke-width="0.12">49 nM</tspan><tspan fill="#111" stroke="#111" stroke-width="0.1" font-size="6.6"> vs. </tspan><tspan fill="#2aa8e2" stroke="#2aa8e2" stroke-width="0.12">40 nM</tspan><tspan fill="#111" stroke="#111" stroke-width="0.1" font-size="6.6"> vs. </tspan><tspan fill="#5a2d8a" stroke="#5a2d8a" stroke-width="0.12">10 nM</tspan></text>
<text x="122" y="494.8" font-size="8.8" text-anchor="middle" fill="#000" font-weight="normal" stroke="#000" stroke-width="0.2" textLength="36.5" lengthAdjust="spacingAndGlyphs">S63845 [nM]</text>
<polyline points="75.21,411.95 76.76,411.95 78.3,411.95 79.85,411.95 81.4,411.95 82.95,411.96 84.49,411.96 86.04,411.96 87.59,411.96 89.14,411.96 90.68,411.97 92.23,411.97 93.78,411.98 95.33,411.98 96.87,411.99 98.42,412 99.97,412.02 101.51,412.03 103.06,412.06 104.61,412.08 106.16,412.12 107.7,412.16 109.25,412.22 110.8,412.29 112.35,412.37 113.89,412.48 115.44,412.62 116.99,412.79 118.54,413 120.08,413.27 121.63,413.6 123.18,414.01 124.72,414.52 126.27,415.15 127.82,415.92 129.37,416.87 130.91,418.01 132.46,419.38 134.01,421.02 135.56,422.93 137.1,425.14 138.65,427.65 140.2,430.46 141.75,433.51 143.29,436.76 144.84,440.14 146.39,443.56 147.93,446.93 149.48,450.17 151.03,453.2 152.58,455.97 154.12,458.45 155.67,460.64 157.22,462.52 158.77,464.13 160.31,465.47 161.86,466.6 163.41,467.52 164.96,468.28 166.5,468.9 168.05,469.4" fill="none" stroke="#5e2d85" stroke-width="1.3"/>
<polyline points="75.21,411.96 76.76,411.96 78.3,411.96 79.85,411.97 81.4,411.97 82.95,411.97 84.49,411.98 86.04,411.98 87.59,411.98 89.14,411.99 90.68,412 92.23,412.01 93.78,412.02 95.33,412.03 96.87,412.04 98.42,412.06 99.97,412.07 101.51,412.1 103.06,412.12 104.61,412.15 106.16,412.19 107.7,412.23 109.25,412.27 110.8,412.33 112.35,412.39 113.89,412.47 115.44,412.56 116.99,412.66 118.54,412.78 120.08,412.93 121.63,413.09 123.18,413.29 124.72,413.51 126.27,413.77 127.82,414.08 129.37,414.43 130.91,414.84 132.46,415.32 134.01,415.86 135.56,416.49 137.1,417.21 138.65,418.03 140.2,418.96 141.75,420.01 143.29,421.2 144.84,422.52 146.39,423.99 147.93,425.61 149.48,427.38 151.03,429.29 152.58,431.35 154.12,433.52 155.67,435.8 157.22,438.17 158.77,440.58 160.31,443.03 161.86,445.47 163.41,447.87 164.96,450.21 166.5,452.45 168.05,454.59" fill="none" stroke="#c51632" stroke-width="1.5" stroke-dasharray="3.6,2"/>
<polyline points="75.21,411.95 76.76,411.95 78.3,411.95 79.85,411.95 81.4,411.95 82.95,411.95 84.49,411.95 86.04,411.96 87.59,411.96 89.14,411.96 90.68,411.96 92.23,411.96 93.78,411.96 95.33,411.97 96.87,411.97 98.42,411.98 99.97,411.98 101.51,411.99 103.06,412 104.61,412.01 106.16,412.02 107.7,412.04 109.25,412.06 110.8,412.08 112.35,412.11 113.89,412.15 115.44,412.19 116.99,412.24 118.54,412.31 120.08,412.39 121.63,412.48 123.18,412.6 124.72,412.74 126.27,412.92 127.82,413.13 129.37,413.39 130.91,413.7 132.46,414.07 134.01,414.53 135.56,415.07 137.1,415.72 138.65,416.5 140.2,417.42 141.75,418.51 143.29,419.78 144.84,421.26 146.39,422.97 147.93,424.9 149.48,427.08 151.03,429.48 152.58,432.1 154.12,434.91 155.67,437.86 157.22,440.91 158.77,443.99 160.31,447.04 161.86,450 163.41,452.83 164.96,455.47 166.5,457.89 168.05,460.09" fill="none" stroke="#2aa6e0" stroke-width="1.3"/>
<polyline points="75.21,411.95 76.76,411.95 78.3,411.95 79.85,411.95 81.4,411.95 82.95,411.95 84.49,411.95 86.04,411.95 87.59,411.95 89.14,411.95 90.68,411.95 92.23,411.95 93.78,411.95 95.33,411.95 96.87,411.95 98.42,411.95 99.97,411.96 101.51,411.96 103.06,411.96 104.61,411.96 106.16,411.96 107.7,411.97 109.25,411.97 110.8,411.98 112.35,411.99 113.89,412 115.44,412.02 116.99,412.04 118.54,412.06 120.08,412.1 121.63,412.14 123.18,412.2 124.72,412.27 126.27,412.36 127.82,412.49 129.37,412.64 130.91,412.84 132.46,413.1 134.01,413.43 135.56,413.85 137.1,414.39 138.65,415.07 140.2,415.92 141.75,417 143.29,418.33 144.84,419.96 146.39,421.93 147.93,424.27 149.48,427.01 151.03,430.13 152.58,433.59 154.12,437.32 155.67,441.22 157.22,445.16 158.77,449.02 160.31,452.68 161.86,456.05 163.41,459.05 164.96,461.67 166.5,463.9 168.05,465.77" fill="none" stroke="#134f85" stroke-width="1.5" stroke-dasharray="3.6,2"/>
<circle cx="75" cy="420" r="1.7" fill="#111"/>
<polygon points="75,421.9 77.1,424 75,426.1 72.9,424" fill="#111"/>
<polygon points="75,424.9 77.1,427 75,429.1 72.9,427" fill="#111"/>
<rect x="73.7" y="439.95" width="2.6" height="2.6" fill="#fff" stroke="#111" stroke-width="0.9"/>
<rect x="144.55" y="424.55" width="3.4" height="3.4" fill="#111"/>
<polygon points="146.25,426.65 148.35,428.75 146.25,430.85 144.15,428.75" fill="#111"/>
<rect x="144.95" y="446.7" width="2.6" height="2.6" fill="#fff" stroke="#111" stroke-width="0.9"/>
<rect x="151.4" y="428.3" width="3.4" height="3.4" fill="#111"/>
<polygon points="153.1,430.9 155.2,433 153.1,435.1 151,433" fill="#111"/>
<rect x="151.8" y="456.7" width="2.6" height="2.6" fill="#fff" stroke="#111" stroke-width="0.9"/>
<rect x="158.3" y="435.8" width="3.4" height="3.4" fill="#111"/>
<polygon points="160,440.9 162.1,443 160,445.1 157.9,443" fill="#111"/>
<circle cx="160" cy="454.4" r="1.7" fill="#111"/>
<rect x="158.7" y="467.45" width="2.6" height="2.6" fill="#fff" stroke="#111" stroke-width="0.9"/>
<rect x="162.7" y="446.3" width="3.4" height="3.4" fill="#111"/>
<polygon points="167.5,457.9 169.6,460 167.5,462.1 165.4,460" fill="#111"/>
<circle cx="167.5" cy="463.75" r="1.7" fill="#111"/>
<circle cx="167.5" cy="468" r="1.7" fill="#111"/>
<rect x="165.6" y="468.1" width="2.6" height="2.6" fill="#fff" stroke="#111" stroke-width="0.9"/>
<line x1="252.5" y1="380.5" x2="252.5" y2="473.5" stroke="#000" stroke-width="1.1" />
<line x1="252" y1="473" x2="391.25" y2="473" stroke="#000" stroke-width="1.1" />
<line x1="249.5" y1="473" x2="252.5" y2="473" stroke="#000" stroke-width="1" />
<text x="246.7" y="475.8" font-size="8.3" text-anchor="end" fill="#000" font-weight="normal" stroke="#000" stroke-width="0.1">0</text>
<line x1="249.5" y1="442.25" x2="252.5" y2="442.25" stroke="#000" stroke-width="1" />
<text x="246.7" y="445.05" font-size="8.3" text-anchor="end" fill="#000" font-weight="normal" stroke="#000" stroke-width="0.1">50</text>
<line x1="249.5" y1="411.5" x2="252.5" y2="411.5" stroke="#000" stroke-width="1" />
<text x="246.7" y="414.3" font-size="8.3" text-anchor="end" fill="#000" font-weight="normal" stroke="#000" stroke-width="0.1">100</text>
<line x1="249.5" y1="380.75" x2="252.5" y2="380.75" stroke="#000" stroke-width="1" />
<text x="246.7" y="383.55" font-size="8.3" text-anchor="end" fill="#000" font-weight="normal" stroke="#000" stroke-width="0.1">150</text>
<line x1="252.5" y1="473" x2="252.5" y2="475.8" stroke="#000" stroke-width="1" />
<text x="250.5" y="484" font-size="7.6" text-anchor="middle" fill="#000" font-weight="normal" stroke="#000" stroke-width="0.1">10</text>
<text x="255.1" y="481.4" font-size="5.4" text-anchor="start" fill="#000" font-weight="normal" stroke="#000" stroke-width="0.05">&#8722;2</text>
<line x1="262.95" y1="473" x2="262.95" y2="474.7" stroke="#000" stroke-width="0.8" />
<line x1="269.06" y1="473" x2="269.06" y2="474.7" stroke="#000" stroke-width="0.8" />
<line x1="273.39" y1="473" x2="273.39" y2="474.7" stroke="#000" stroke-width="0.8" />
<line x1="276.75" y1="473" x2="276.75" y2="474.7" stroke="#000" stroke-width="0.8" />
<line x1="279.5" y1="473" x2="279.5" y2="474.7" stroke="#000" stroke-width="0.8" />
<line x1="281.82" y1="473" x2="281.82" y2="474.7" stroke="#000" stroke-width="0.8" />
<line x1="283.84" y1="473" x2="283.84" y2="474.7" stroke="#000" stroke-width="0.8" />
<line x1="285.61" y1="473" x2="285.61" y2="474.7" stroke="#000" stroke-width="0.8" />
<line x1="287.2" y1="473" x2="287.2" y2="475.8" stroke="#000" stroke-width="1" />
<text x="285.2" y="484" font-size="7.6" text-anchor="middle" fill="#000" font-weight="normal" stroke="#000" stroke-width="0.1">10</text>
<text x="289.8" y="481.4" font-size="5.4" text-anchor="start" fill="#000" font-weight="normal" stroke="#000" stroke-width="0.05">&#8722;1</text>
<line x1="297.65" y1="473" x2="297.65" y2="474.7" stroke="#000" stroke-width="0.8" />
<line x1="303.76" y1="473" x2="303.76" y2="474.7" stroke="#000" stroke-width="0.8" />
<line x1="308.09" y1="473" x2="308.09" y2="474.7" stroke="#000" stroke-width="0.8" />
<line x1="311.45" y1="473" x2="311.45" y2="474.7" stroke="#000" stroke-width="0.8" />
<line x1="314.2" y1="473" x2="314.2" y2="474.7" stroke="#000" stroke-width="0.8" />
<line x1="316.52" y1="473" x2="316.52" y2="474.7" stroke="#000" stroke-width="0.8" />
<line x1="318.54" y1="473" x2="318.54" y2="474.7" stroke="#000" stroke-width="0.8" />
<line x1="320.31" y1="473" x2="320.31" y2="474.7" stroke="#000" stroke-width="0.8" />
<line x1="321.9" y1="473" x2="321.9" y2="475.8" stroke="#000" stroke-width="1" />
<text x="319.9" y="484" font-size="7.6" text-anchor="middle" fill="#000" font-weight="normal" stroke="#000" stroke-width="0.1">10</text>
<text x="324.5" y="481.4" font-size="5.4" text-anchor="start" fill="#000" font-weight="normal" stroke="#000" stroke-width="0.05">0</text>
<line x1="332.35" y1="473" x2="332.35" y2="474.7" stroke="#000" stroke-width="0.8" />
<line x1="338.46" y1="473" x2="338.46" y2="474.7" stroke="#000" stroke-width="0.8" />
<line x1="342.79" y1="473" x2="342.79" y2="474.7" stroke="#000" stroke-width="0.8" />
<line x1="346.15" y1="473" x2="346.15" y2="474.7" stroke="#000" stroke-width="0.8" />
<line x1="348.9" y1="473" x2="348.9" y2="474.7" stroke="#000" stroke-width="0.8" />
<line x1="351.22" y1="473" x2="351.22" y2="474.7" stroke="#000" stroke-width="0.8" />
<line x1="353.24" y1="473" x2="353.24" y2="474.7" stroke="#000" stroke-width="0.8" />
<line x1="355.01" y1="473" x2="355.01" y2="474.7" stroke="#000" stroke-width="0.8" />
<line x1="356.6" y1="473" x2="356.6" y2="475.8" stroke="#000" stroke-width="1" />
<text x="354.6" y="484" font-size="7.6" text-anchor="middle" fill="#000" font-weight="normal" stroke="#000" stroke-width="0.1">10</text>
<text x="359.2" y="481.4" font-size="5.4" text-anchor="start" fill="#000" font-weight="normal" stroke="#000" stroke-width="0.05">1</text>
<line x1="367.05" y1="473" x2="367.05" y2="474.7" stroke="#000" stroke-width="0.8" />
<line x1="373.16" y1="473" x2="373.16" y2="474.7" stroke="#000" stroke-width="0.8" />
<line x1="377.49" y1="473" x2="377.49" y2="474.7" stroke="#000" stroke-width="0.8" />
<line x1="380.85" y1="473" x2="380.85" y2="474.7" stroke="#000" stroke-width="0.8" />
<line x1="383.6" y1="473" x2="383.6" y2="474.7" stroke="#000" stroke-width="0.8" />
<line x1="385.92" y1="473" x2="385.92" y2="474.7" stroke="#000" stroke-width="0.8" />
<line x1="387.94" y1="473" x2="387.94" y2="474.7" stroke="#000" stroke-width="0.8" />
<line x1="389.71" y1="473" x2="389.71" y2="474.7" stroke="#000" stroke-width="0.8" />
<line x1="391.3" y1="473" x2="391.3" y2="475.8" stroke="#000" stroke-width="1" />
<text x="389.3" y="484" font-size="7.6" text-anchor="middle" fill="#000" font-weight="normal" stroke="#000" stroke-width="0.1">10</text>
<text x="393.9" y="481.4" font-size="5.4" text-anchor="start" fill="#000" font-weight="normal" stroke="#000" stroke-width="0.05">2</text>
<text x="321.25" y="384.6" font-size="9" text-anchor="middle" fill="#000" font-weight="normal" stroke="#000" stroke-width="0.1">SK-MM-1</text>
<text x="260.75" y="395.6" font-size="7.4" text-anchor="start"><tspan fill="#111" stroke="#111" stroke-width="0.15">IC50: </tspan><tspan fill="#24649f" stroke="#24649f" stroke-width="0.12">4 nM</tspan><tspan fill="#111" stroke="#111" stroke-width="0.1" font-size="6.6"> vs. </tspan><tspan fill="#c8143a" stroke="#c8143a" stroke-width="0.12">22 nM</tspan><tspan fill="#111" stroke="#111" stroke-width="0.1" font-size="6.6"> vs. </tspan><tspan fill="#2aa8e2" stroke="#2aa8e2" stroke-width="0.12">20 nM</tspan><tspan fill="#111" stroke="#111" stroke-width="0.1" font-size="6.6"> vs. </tspan><tspan fill="#5a2d8a" stroke="#5a2d8a" stroke-width="0.12">8 nM</tspan></text>
<text x="321.25" y="494.8" font-size="8.8" text-anchor="middle" fill="#000" font-weight="normal" stroke="#000" stroke-width="0.2" textLength="37.5" lengthAdjust="spacingAndGlyphs">S63845 [nM]</text>
<polyline points="285.81,411.65 287.21,411.67 288.6,411.69 289.99,411.72 291.39,411.75 292.78,411.78 294.17,411.82 295.57,411.86 296.96,411.91 298.36,411.96 299.75,412.02 301.14,412.09 302.54,412.17 303.93,412.25 305.32,412.35 306.72,412.46 308.11,412.59 309.51,412.73 310.9,412.89 312.29,413.07 313.69,413.28 315.08,413.51 316.48,413.76 317.87,414.05 319.26,414.37 320.66,414.74 322.05,415.14 323.44,415.59 324.84,416.1 326.23,416.66 327.63,417.28 329.02,417.97 330.41,418.73 331.81,419.56 333.2,420.48 334.59,421.48 335.99,422.56 337.38,423.74 338.78,425.01 340.17,426.38 341.56,427.83 342.96,429.37 344.35,430.99 345.74,432.69 347.14,434.46 348.53,436.28 349.93,438.15 351.32,440.05 352.71,441.96 354.11,443.88 355.5,445.79 356.89,447.67 358.29,449.5 359.68,451.29 361.08,453.01 362.47,454.65 363.86,456.22 365.26,457.7 366.65,459.09 368.05,460.39 369.44,461.59" fill="none" stroke="#5e2d85" stroke-width="1.3"/>
<polyline points="285.81,411.6 287.21,411.61 288.6,411.62 289.99,411.64 291.39,411.65 292.78,411.67 294.17,411.69 295.57,411.71 296.96,411.74 298.36,411.77 299.75,411.8 301.14,411.83 302.54,411.87 303.93,411.91 305.32,411.96 306.72,412.02 308.11,412.08 309.51,412.14 310.9,412.22 312.29,412.3 313.69,412.39 315.08,412.5 316.48,412.61 317.87,412.74 319.26,412.88 320.66,413.04 322.05,413.21 323.44,413.41 324.84,413.62 326.23,413.86 327.63,414.13 329.02,414.42 330.41,414.75 331.81,415.11 333.2,415.5 334.59,415.94 335.99,416.42 337.38,416.95 338.78,417.52 340.17,418.15 341.56,418.84 342.96,419.59 344.35,420.4 345.74,421.28 347.14,422.23 348.53,423.24 349.93,424.34 351.32,425.5 352.71,426.74 354.11,428.04 355.5,429.42 356.89,430.86 358.29,432.36 359.68,433.92 361.08,435.52 362.47,437.16 363.86,438.84 365.26,440.53 366.65,442.24 368.05,443.94 369.44,445.63" fill="none" stroke="#2aa6e0" stroke-width="1.3"/>
<polyline points="285.81,411.6 287.21,411.62 288.6,411.63 289.99,411.64 291.39,411.66 292.78,411.68 294.17,411.7 295.57,411.73 296.96,411.75 298.36,411.78 299.75,411.81 301.14,411.85 302.54,411.89 303.93,411.94 305.32,411.99 306.72,412.04 308.11,412.11 309.51,412.18 310.9,412.26 312.29,412.34 313.69,412.44 315.08,412.55 316.48,412.67 317.87,412.81 319.26,412.96 320.66,413.12 322.05,413.31 323.44,413.51 324.84,413.74 326.23,413.99 327.63,414.27 329.02,414.58 330.41,414.92 331.81,415.3 333.2,415.72 334.59,416.17 335.99,416.67 337.38,417.23 338.78,417.83 340.17,418.49 341.56,419.2 342.96,419.98 344.35,420.83 345.74,421.74 347.14,422.72 348.53,423.78 349.93,424.91 351.32,426.11 352.71,427.38 354.11,428.72 355.5,430.13 356.89,431.6 358.29,433.13 359.68,434.71 361.08,436.33 362.47,437.99 363.86,439.68 365.26,441.38 366.65,443.09 368.05,444.79 369.44,446.47" fill="none" stroke="#c51632" stroke-width="1.5" stroke-dasharray="3.6,2"/>
<polyline points="285.81,415.3 287.21,415.55 288.6,415.81 289.99,416.08 291.39,416.37 292.78,416.68 294.17,417.01 295.57,417.35 296.96,417.71 298.36,418.09 299.75,418.5 301.14,418.92 302.54,419.36 303.93,419.83 305.32,420.32 306.72,420.84 308.11,421.38 309.51,421.94 310.9,422.53 312.29,423.15 313.69,423.79 315.08,424.46 316.48,425.15 317.87,425.88 319.26,426.62 320.66,427.39 322.05,428.19 323.44,429.01 324.84,429.86 326.23,430.73 327.63,431.62 329.02,432.53 330.41,433.46 331.81,434.41 333.2,435.38 334.59,436.36 335.99,437.35 337.38,438.35 338.78,439.36 340.17,440.38 341.56,441.4 342.96,442.42 344.35,443.45 345.74,444.47 347.14,445.48 348.53,446.49 349.93,447.49 351.32,448.48 352.71,449.45 354.11,450.41 355.5,451.36 356.89,452.28 358.29,453.19 359.68,454.07 361.08,454.93 362.47,455.77 363.86,456.58 365.26,457.37 366.65,458.14 368.05,458.87 369.44,459.58" fill="none" stroke="#134f85" stroke-width="1.5" stroke-dasharray="3.6,2"/>
<rect x="284.1" y="416.3" width="3.4" height="3.4" fill="#111"/>
<polygon points="285.8,418.4 287.9,420.5 285.8,422.6 283.7,420.5" fill="#111"/>
<rect x="284.5" y="420.7" width="2.6" height="2.6" fill="#fff" stroke="#111" stroke-width="0.9"/>
<circle cx="285.8" cy="425" r="1.7" fill="#111"/>
<rect x="326.3" y="417.3" width="3.4" height="3.4" fill="#111"/>
<rect x="326.7" y="422.7" width="2.6" height="2.6" fill="#fff" stroke="#111" stroke-width="0.9"/>
<circle cx="328" cy="433.7" r="1.7" fill="#111"/>
<rect x="337" y="418.3" width="3.4" height="3.4" fill="#111"/>
<rect x="337.4" y="423.3" width="2.6" height="2.6" fill="#fff" stroke="#111" stroke-width="0.9"/>
<circle cx="338.7" cy="438.5" r="1.7" fill="#111"/>
<polygon points="348.8,420.9 350.9,423 348.8,425.1 346.7,423" fill="#111"/>
<rect x="347.5" y="431" width="2.6" height="2.6" fill="#fff" stroke="#111" stroke-width="0.9"/>
<circle cx="348.8" cy="442.3" r="1.7" fill="#111"/>
<rect x="357.1" y="427.1" width="3.4" height="3.4" fill="#111"/>
<rect x="357.5" y="449.1" width="2.6" height="2.6" fill="#fff" stroke="#111" stroke-width="0.9"/>
<circle cx="358.8" cy="453.8" r="1.7" fill="#111"/>
<circle cx="369.4" cy="447" r="1.7" fill="#111"/>
<rect x="367.7" y="446.8" width="3.4" height="3.4" fill="#111"/>
<rect x="368.1" y="465" width="2.6" height="2.6" fill="#fff" stroke="#111" stroke-width="0.9"/>
<rect x="367.7" y="466.6" width="3.4" height="3.4" fill="#111"/>
<line x1="397.5" y1="402.5" x2="408.5" y2="402.5" stroke="#134f85" stroke-width="1.8" />
<circle cx="403" cy="402.5" r="1.9" fill="#111"/>
<text x="413.8" y="405.1" font-size="7.2" text-anchor="start" fill="#000" font-weight="normal" stroke="#000" stroke-width="0.05">Mono-culture</text>
<line x1="397.5" y1="413" x2="400.5" y2="413" stroke="#c51632" stroke-width="1.8" />
<line x1="405.5" y1="413" x2="408.5" y2="413" stroke="#c51632" stroke-width="1.8" />
<rect x="401.1" y="411.1" width="3.8" height="3.8" fill="#111"/>
<text x="413.8" y="415.6" font-size="7.2" text-anchor="start" fill="#000" font-weight="normal" stroke="#000" stroke-width="0.05">Co-culture</text>
<line x1="397.5" y1="424.25" x2="408.5" y2="424.25" stroke="#2aa6e0" stroke-width="1.8" />
<polygon points="403,421.95 405.3,424.25 403,426.55 400.7,424.25" fill="#111"/>
<text x="413.8" y="426.85" font-size="7.2" text-anchor="start" fill="#000" font-weight="normal" stroke="#000" stroke-width="0.05">Co-culture + Venetoclax</text>
<line x1="397.5" y1="435" x2="408.5" y2="435" stroke="#5e2d85" stroke-width="1.8" />
<rect x="401.5" y="433.5" width="3" height="3" fill="#fff" stroke="#111" stroke-width="0.9"/>
<text x="413.8" y="437.6" font-size="7.2" text-anchor="start" fill="#000" font-weight="normal" stroke="#000" stroke-width="0.05">Co-culture + A-1331852</text>
<line x1="190.75" y1="519.5" x2="190.75" y2="624.25" stroke="#000" stroke-width="1.1" />
<line x1="190.25" y1="623.75" x2="346.5" y2="623.75" stroke="#000" stroke-width="1.1" />
<line x1="187.75" y1="623.75" x2="190.75" y2="623.75" stroke="#000" stroke-width="1" />
<text x="185.95" y="626.65" font-size="8.4" text-anchor="end" fill="#000" font-weight="normal" stroke="#000" stroke-width="0.1">0</text>
<line x1="187.75" y1="603.25" x2="190.75" y2="603.25" stroke="#000" stroke-width="1" />
<text x="185.95" y="606.15" font-size="8.4" text-anchor="end" fill="#000" font-weight="normal" stroke="#000" stroke-width="0.1">20</text>
<line x1="187.75" y1="582.75" x2="190.75" y2="582.75" stroke="#000" stroke-width="1" />
<text x="185.95" y="585.65" font-size="8.4" text-anchor="end" fill="#000" font-weight="normal" stroke="#000" stroke-width="0.1">40</text>
<line x1="187.75" y1="562.25" x2="190.75" y2="562.25" stroke="#000" stroke-width="1" />
<text x="185.95" y="565.15" font-size="8.4" text-anchor="end" fill="#000" font-weight="normal" stroke="#000" stroke-width="0.1">60</text>
<line x1="187.75" y1="541.75" x2="190.75" y2="541.75" stroke="#000" stroke-width="1" />
<text x="185.95" y="544.65" font-size="8.4" text-anchor="end" fill="#000" font-weight="normal" stroke="#000" stroke-width="0.1">80</text>
<line x1="187.75" y1="521.25" x2="190.75" y2="521.25" stroke="#000" stroke-width="1" />
<text x="185.95" y="524.15" font-size="8.4" text-anchor="end" fill="#000" font-weight="normal" stroke="#000" stroke-width="0.1">100</text>
<text x="156.46" y="573.5" font-size="7.6" text-anchor="middle" fill="#000" font-weight="normal" stroke="#000" stroke-width="0.22" textLength="38" lengthAdjust="spacingAndGlyphs" transform="rotate(-90 156.46 573.5)">% viable cells</text>
<text x="167.26" y="573.5" font-size="7.6" text-anchor="middle" fill="#000" font-weight="normal" stroke="#000" stroke-width="0.22" textLength="89" lengthAdjust="spacingAndGlyphs" transform="rotate(-90 167.26 573.5)">(Annexin V and 7AAD negative)</text>
<line x1="200.4" y1="623.75" x2="200.4" y2="626.75" stroke="#000" stroke-width="1" />
<line x1="200.4" y1="559.88" x2="200.4" y2="603.69" stroke="#3d5573" stroke-width="1.1" />
<line x1="196.2" y1="559.88" x2="204.6" y2="559.88" stroke="#3d5573" stroke-width="1.1" />
<line x1="196.2" y1="603.69" x2="204.6" y2="603.69" stroke="#3d5573" stroke-width="1.1" />
<line x1="194.1" y1="581.46" x2="206.7" y2="581.46" stroke="#3d5573" stroke-width="1.2" />
<circle cx="200.37" cy="551.06" r="1.3" fill="#3d5573"/>
<circle cx="196.44" cy="565.12" r="1.3" fill="#3d5573"/>
<circle cx="202.98" cy="564.13" r="1.3" fill="#3d5573"/>
<circle cx="205.6" cy="569.04" r="1.3" fill="#3d5573"/>
<circle cx="200.37" cy="573.94" r="1.3" fill="#3d5573"/>
<circle cx="198.08" cy="588.65" r="1.3" fill="#3d5573"/>
<circle cx="202.98" cy="593.56" r="1.3" fill="#3d5573"/>
<circle cx="199.71" cy="603.37" r="1.3" fill="#3d5573"/>
<circle cx="199.71" cy="619.71" r="1.3" fill="#3d5573"/>
<line x1="219.95" y1="623.75" x2="219.95" y2="626.75" stroke="#000" stroke-width="1" />
<line x1="219.95" y1="590.29" x2="219.95" y2="614.81" stroke="#3d5573" stroke-width="1.1" />
<line x1="215.75" y1="590.29" x2="224.15" y2="590.29" stroke="#3d5573" stroke-width="1.1" />
<line x1="215.75" y1="614.81" x2="224.15" y2="614.81" stroke="#3d5573" stroke-width="1.1" />
<line x1="213.65" y1="602.71" x2="226.25" y2="602.71" stroke="#3d5573" stroke-width="1.2" />
<circle cx="219.98" cy="575.58" r="1.3" fill="#3d5573"/>
<circle cx="216.06" cy="595.85" r="1.3" fill="#3d5573"/>
<circle cx="218.67" cy="600.1" r="1.3" fill="#3d5573"/>
<circle cx="223.58" cy="604.02" r="1.3" fill="#3d5573"/>
<circle cx="216.06" cy="605.98" r="1.3" fill="#3d5573"/>
<circle cx="221.94" cy="606.64" r="1.3" fill="#3d5573"/>
<circle cx="219.33" cy="611.54" r="1.3" fill="#3d5573"/>
<circle cx="219.98" cy="623.2" r="1.3" fill="#3d5573"/>
<line x1="239.5" y1="623.75" x2="239.5" y2="626.75" stroke="#000" stroke-width="1" />
<line x1="239.5" y1="532.42" x2="239.5" y2="584.4" stroke="#3d5573" stroke-width="1.1" />
<line x1="235.3" y1="532.42" x2="243.7" y2="532.42" stroke="#3d5573" stroke-width="1.1" />
<line x1="235.3" y1="584.4" x2="243.7" y2="584.4" stroke="#3d5573" stroke-width="1.1" />
<line x1="233.2" y1="557.92" x2="245.8" y2="557.92" stroke="#3d5573" stroke-width="1.2" />
<circle cx="239.6" cy="527.19" r="1.3" fill="#3d5573"/>
<circle cx="237.96" cy="538.63" r="1.3" fill="#3d5573"/>
<circle cx="242.21" cy="537.98" r="1.3" fill="#3d5573"/>
<circle cx="237.31" cy="547.79" r="1.3" fill="#3d5573"/>
<circle cx="243.19" cy="546.81" r="1.3" fill="#3d5573"/>
<circle cx="239.6" cy="555.96" r="1.3" fill="#3d5573"/>
<circle cx="237.31" cy="565.77" r="1.3" fill="#3d5573"/>
<circle cx="241.23" cy="564.13" r="1.3" fill="#3d5573"/>
<circle cx="238.94" cy="570.67" r="1.3" fill="#3d5573"/>
<circle cx="239.92" cy="583.1" r="1.3" fill="#3d5573"/>
<circle cx="239.6" cy="615.46" r="1.3" fill="#3d5573"/>
<line x1="259.05" y1="623.75" x2="259.05" y2="626.75" stroke="#000" stroke-width="1" />
<line x1="259.05" y1="542.88" x2="259.05" y2="579.83" stroke="#3d5573" stroke-width="1.1" />
<line x1="254.85" y1="542.88" x2="263.25" y2="542.88" stroke="#3d5573" stroke-width="1.1" />
<line x1="254.85" y1="579.83" x2="263.25" y2="579.83" stroke="#3d5573" stroke-width="1.1" />
<line x1="252.75" y1="561.85" x2="265.35" y2="561.85" stroke="#3d5573" stroke-width="1.2" />
<circle cx="258.56" cy="543.54" r="1.3" fill="#3d5573"/>
<circle cx="263.46" cy="543.54" r="1.3" fill="#3d5573"/>
<circle cx="256.92" cy="547.79" r="1.3" fill="#3d5573"/>
<circle cx="260.19" cy="554.33" r="1.3" fill="#3d5573"/>
<circle cx="256.27" cy="569.04" r="1.3" fill="#3d5573"/>
<circle cx="260.85" cy="568.38" r="1.3" fill="#3d5573"/>
<circle cx="259.54" cy="577.21" r="1.3" fill="#3d5573"/>
<circle cx="258.89" cy="588" r="1.3" fill="#3d5573"/>
<circle cx="258.89" cy="598.46" r="1.3" fill="#3d5573"/>
<line x1="278.6" y1="623.75" x2="278.6" y2="626.75" stroke="#000" stroke-width="1" />
<line x1="278.6" y1="541.58" x2="278.6" y2="572.96" stroke="#3d5573" stroke-width="1.1" />
<line x1="274.4" y1="541.58" x2="282.8" y2="541.58" stroke="#3d5573" stroke-width="1.1" />
<line x1="274.4" y1="572.96" x2="282.8" y2="572.96" stroke="#3d5573" stroke-width="1.1" />
<line x1="272.3" y1="556.62" x2="284.9" y2="556.62" stroke="#3d5573" stroke-width="1.2" />
<circle cx="278.83" cy="531.44" r="1.3" fill="#3d5573"/>
<circle cx="278.83" cy="542.88" r="1.3" fill="#3d5573"/>
<circle cx="273.92" cy="551.06" r="1.3" fill="#3d5573"/>
<circle cx="282.42" cy="551.06" r="1.3" fill="#3d5573"/>
<circle cx="278.17" cy="554.33" r="1.3" fill="#3d5573"/>
<circle cx="274.9" cy="560.87" r="1.3" fill="#3d5573"/>
<circle cx="281.44" cy="560.87" r="1.3" fill="#3d5573"/>
<circle cx="278.83" cy="565.77" r="1.3" fill="#3d5573"/>
<circle cx="278.83" cy="577.21" r="1.3" fill="#3d5573"/>
<circle cx="278.83" cy="586.37" r="1.3" fill="#3d5573"/>
<line x1="298.15" y1="623.75" x2="298.15" y2="626.75" stroke="#000" stroke-width="1" />
<line x1="298.15" y1="539.62" x2="298.15" y2="573.94" stroke="#3d5573" stroke-width="1.1" />
<line x1="293.95" y1="539.62" x2="302.35" y2="539.62" stroke="#3d5573" stroke-width="1.1" />
<line x1="293.95" y1="573.94" x2="302.35" y2="573.94" stroke="#3d5573" stroke-width="1.1" />
<line x1="291.85" y1="555.96" x2="304.45" y2="555.96" stroke="#3d5573" stroke-width="1.2" />
<circle cx="298.44" cy="527.52" r="1.3" fill="#3d5573"/>
<circle cx="301.71" cy="537" r="1.3" fill="#3d5573"/>
<circle cx="296.15" cy="539.62" r="1.3" fill="#3d5573"/>
<circle cx="298.44" cy="551.06" r="1.3" fill="#3d5573"/>
<circle cx="294.52" cy="560.87" r="1.3" fill="#3d5573"/>
<circle cx="301.71" cy="560.87" r="1.3" fill="#3d5573"/>
<circle cx="296.15" cy="569.04" r="1.3" fill="#3d5573"/>
<circle cx="300.08" cy="570.67" r="1.3" fill="#3d5573"/>
<circle cx="298.44" cy="585.39" r="1.3" fill="#3d5573"/>
<line x1="317.7" y1="623.75" x2="317.7" y2="626.75" stroke="#000" stroke-width="1" />
<line x1="317.7" y1="597.48" x2="317.7" y2="624.62" stroke="#3d5573" stroke-width="1.1" />
<line x1="313.5" y1="597.48" x2="321.9" y2="597.48" stroke="#3d5573" stroke-width="1.1" />
<line x1="313.5" y1="624.62" x2="321.9" y2="624.62" stroke="#3d5573" stroke-width="1.1" />
<line x1="311.4" y1="610.56" x2="324" y2="610.56" stroke="#3d5573" stroke-width="1.2" />
<circle cx="317.4" cy="578.19" r="1.3" fill="#3d5573"/>
<circle cx="315.77" cy="600.1" r="1.3" fill="#3d5573"/>
<circle cx="319.69" cy="601.73" r="1.3" fill="#3d5573"/>
<circle cx="314.14" cy="611.54" r="1.3" fill="#3d5573"/>
<circle cx="320.67" cy="612.19" r="1.3" fill="#3d5573"/>
<circle cx="315.77" cy="618.08" r="1.3" fill="#3d5573"/>
<circle cx="319.69" cy="619.71" r="1.3" fill="#3d5573"/>
<circle cx="317.4" cy="623.2" r="1.3" fill="#3d5573"/>
<line x1="337.25" y1="623.75" x2="337.25" y2="626.75" stroke="#000" stroke-width="1" />
<line x1="337.25" y1="566.42" x2="337.25" y2="604.02" stroke="#3d5573" stroke-width="1.1" />
<line x1="333.05" y1="566.42" x2="341.45" y2="566.42" stroke="#3d5573" stroke-width="1.1" />
<line x1="333.05" y1="604.02" x2="341.45" y2="604.02" stroke="#3d5573" stroke-width="1.1" />
<line x1="330.95" y1="584.73" x2="343.55" y2="584.73" stroke="#3d5573" stroke-width="1.2" />
<circle cx="336.37" cy="554.98" r="1.3" fill="#3d5573"/>
<circle cx="332.12" cy="573.94" r="1.3" fill="#3d5573"/>
<circle cx="341.27" cy="572.96" r="1.3" fill="#3d5573"/>
<circle cx="336.04" cy="580.48" r="1.3" fill="#3d5573"/>
<circle cx="333.75" cy="595.85" r="1.3" fill="#3d5573"/>
<circle cx="336.04" cy="606.64" r="1.3" fill="#3d5573"/>
<circle cx="336.04" cy="620.69" r="1.3" fill="#3d5573"/>
<text x="202.6" y="632.2" font-size="7.9" text-anchor="end" fill="#000" font-weight="normal" transform="rotate(-45 202.6 632.2)">DMSO mono</text>
<text x="222.15" y="632.2" font-size="7.9" text-anchor="end" fill="#000" font-weight="normal" transform="rotate(-45 222.15 632.2)">S63845 mono</text>
<text x="241.7" y="632.2" font-size="7.9" text-anchor="end" fill="#000" font-weight="normal" transform="rotate(-45 241.7 632.2)">DMSO co</text>
<text x="261.25" y="632.2" font-size="7.9" text-anchor="end" fill="#000" font-weight="normal" transform="rotate(-45 261.25 632.2)">S63845 co</text>
<text x="280.8" y="632.2" font-size="7.9" text-anchor="end" fill="#000" font-weight="normal" transform="rotate(-45 280.8 632.2)">A-1331852 co</text>
<text x="300.35" y="632.2" font-size="7.9" text-anchor="end" fill="#000" font-weight="normal" transform="rotate(-45 300.35 632.2)">Venetoclax co</text>
<text x="319.9" y="632.2" font-size="7.9" text-anchor="end" fill="#000" font-weight="normal" transform="rotate(-45 319.9 632.2)">S + A co</text>
<text x="339.45" y="632.2" font-size="7.9" text-anchor="end" fill="#000" font-weight="normal" transform="rotate(-45 339.45 632.2)">S + V co</text>
<polyline points="200,543.25 218.75,543.25" fill="none" stroke="#333" stroke-width="1"/>
<polyline points="209.5,543.25 209.5,514.25 248,514.25 248,521.75" fill="none" stroke="#333" stroke-width="1"/>
<polyline points="238.75,521.75 257,521.75" fill="none" stroke="#333" stroke-width="1"/>
<polyline points="238.75,511.25 238.75,505.5 327.5,505.5 327.5,513" fill="none" stroke="#333" stroke-width="1"/>
<polyline points="318.25,513 336.25,513" fill="none" stroke="#333" stroke-width="1"/>
<polyline points="318,551.25 318,545.5 336.25,545.5 336.25,551.25" fill="none" stroke="#333" stroke-width="1"/>
<text x="229.25" y="515" font-size="10" text-anchor="middle" fill="#000" font-weight="normal" stroke="#000" stroke-width="0.1">*</text>
<text x="282.5" y="506.5" font-size="10" text-anchor="middle" fill="#000" font-weight="normal" stroke="#000" stroke-width="0.1">**</text></svg></body></html>
